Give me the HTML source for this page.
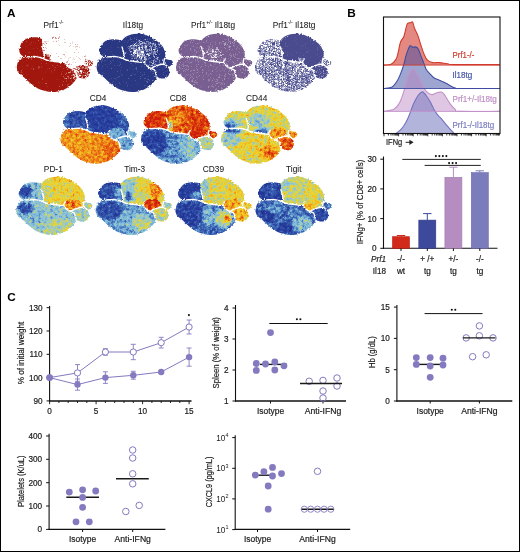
<!DOCTYPE html>
<html><head><meta charset="utf-8"><title>Figure</title>
<style>
html,body{margin:0;padding:0;background:#fff;width:520px;height:552px;overflow:hidden}
svg{display:block;position:absolute;left:0;top:0;will-change:transform}
text{font-family:"Liberation Sans",sans-serif}
</style></head><body>
<svg width="520" height="552" viewBox="0 0 520 552" font-family="Liberation Sans, sans-serif">
<defs><clipPath id="sil"><path d="M0.3,36.3C0.0,35.2 -0.1,34.0 0.1,32.7C0.3,31.4 0.7,29.5 1.3,28.4C1.9,27.2 2.8,26.4 3.6,25.8C4.4,25.2 5.6,25.0 6.2,24.6C6.8,24.2 7.5,23.9 7.4,23.5C7.3,23.1 6.2,22.9 5.6,22.4C5.0,21.9 4.1,21.5 3.6,20.6C3.1,19.8 2.5,18.4 2.5,17.3C2.5,16.2 3.0,15.1 3.4,14.2C3.8,13.2 4.2,12.6 5.0,11.6C5.8,10.6 6.8,9.0 8.1,8.1C9.4,7.2 11.4,6.8 13.0,6.4C14.6,6.1 16.4,6.0 17.9,6.0C19.4,6.0 20.8,6.3 22.0,6.5C23.2,6.7 24.3,7.5 25.2,7.2C26.1,7.0 26.5,5.7 27.4,5.0C28.3,4.3 29.3,3.4 30.5,2.8C31.7,2.2 32.9,1.7 34.5,1.3C36.1,0.9 38.2,0.5 40.0,0.4C41.8,0.3 43.3,0.2 45.0,0.5C46.7,0.8 48.1,1.2 50.0,2.0C51.9,2.8 54.4,4.0 56.5,5.2C58.6,6.5 60.8,8.0 62.5,9.5C64.2,11.0 65.5,12.2 66.5,14.0C67.5,15.8 68.5,18.4 68.8,20.2C69.1,22.0 68.1,24.0 68.4,25.0C68.7,26.0 69.7,25.8 70.8,26.2C71.9,26.6 74.4,26.5 75.3,27.2C76.2,27.9 76.4,29.3 76.2,30.2C76.0,31.1 74.7,31.8 74.0,32.5C73.3,33.2 72.2,33.2 72.0,34.2C71.8,35.2 73.1,37.0 73.0,38.5C72.9,40.0 72.4,41.9 71.5,43.0C70.6,44.1 68.9,44.9 67.5,45.2C66.1,45.5 64.2,44.9 63.0,44.6C61.8,44.3 60.9,43.5 60.3,43.6C59.7,43.8 60.1,44.7 59.6,45.5C59.1,46.3 58.5,47.3 57.5,48.5C56.5,49.7 55.1,51.2 53.5,52.5C51.9,53.8 50.1,55.0 48.0,56.0C45.9,57.0 43.2,57.7 41.0,58.2C38.8,58.7 37.1,58.9 35.0,58.8C32.9,58.7 30.8,58.4 28.5,57.8C26.2,57.2 23.2,56.4 21.0,55.3C18.8,54.2 16.8,52.7 15.0,51.3C13.2,49.9 11.6,48.3 10.0,46.8C8.4,45.3 6.9,43.7 5.5,42.5C4.1,41.3 2.7,40.5 1.8,39.5C0.9,38.5 0.6,37.4 0.3,36.3Z"/></clipPath><clipPath id="cLO"><path d="M-5.0,-5.0 L85.0,-5.0 L85.0,70.0 L-5.0,70.0Z"/></clipPath><clipPath id="cUL"><path d="M-5.0,-5.0 L25.1,-5.0 L25.1,9.5 L25.4,13.6 L26.6,17.5 L27.4,21.0 L26.8,24.6 L23.4,24.2 L19.1,23.3 L14.8,23.4 L10.0,23.6 L6.8,23.5 L-5.0,23.5Z"/></clipPath><clipPath id="cUM"><path d="M25.1,-5.0 L85.0,-5.0 L85.0,31.0 L68.4,31.4 L65.0,31.0 L58.0,31.0 L47.5,29.3 L43.0,28.8 L38.0,28.2 L33.0,27.4 L29.5,26.7 L26.8,24.6 L27.4,21.0 L26.6,17.5 L25.4,13.6 L25.1,9.5Z"/></clipPath><clipPath id="cMR"><path d="M49.2,25.6 L51.0,23.6 L54.0,22.6 L58.0,22.3 L61.5,23.0 L64.0,25.0 L65.2,28.3 L65.0,31.0 L61.5,31.9 L58.1,33.0 L55.5,34.6 L51.9,33.8 L49.0,31.5 L47.5,29.3 L48.0,27.4Z"/></clipPath><clipPath id="cRC"><path d="M55.5,34.6 L58.1,33.0 L61.5,31.9 L65.0,31.0 L68.4,31.4 L72.0,34.2 L85.0,34.0 L85.0,60.0 L60.0,60.0 L60.0,43.5 L59.2,40.0 L58.1,36.8Z"/></clipPath><clipPath id="cRS"><path d="M67.5,22.0 L85.0,22.0 L85.0,34.0 L72.0,34.2 L68.4,31.4 L67.2,31.0 L67.3,28.2 L68.0,25.2Z"/></clipPath><clipPath id="silf1"><path d="M0.3,36.3C0.0,35.2 -0.1,34.0 0.1,32.7C0.3,31.4 0.7,29.5 1.3,28.4C1.9,27.2 2.8,26.4 3.6,25.8C4.4,25.2 5.6,25.0 6.2,24.6C6.8,24.2 7.5,23.9 7.4,23.5C7.3,23.1 6.2,22.9 5.6,22.4C5.0,21.9 4.1,21.5 3.6,20.6C3.1,19.8 2.5,18.4 2.5,17.3C2.5,16.2 3.0,15.1 3.4,14.2C3.8,13.2 4.2,12.6 5.0,11.6C5.8,10.6 6.8,9.0 8.1,8.1C9.4,7.2 11.4,6.8 13.0,6.4C14.6,6.1 16.4,6.0 17.9,6.0C19.4,6.0 20.8,6.3 22.0,6.5C23.2,6.7 24.3,7.5 25.2,7.2C26.1,7.0 26.5,5.7 27.4,5.0C28.3,4.3 29.3,3.4 30.5,2.8C31.7,2.2 32.9,1.7 34.5,1.3C36.1,0.9 38.2,0.5 40.0,0.4C41.8,0.3 43.3,0.2 45.0,0.5C46.7,0.8 48.1,1.2 50.0,2.0C51.9,2.8 54.4,4.0 56.5,5.2C58.6,6.5 60.8,8.0 62.5,9.5C64.2,11.0 65.5,12.2 66.5,14.0C67.5,15.8 68.5,18.4 68.8,20.2C69.1,22.0 68.1,24.0 68.4,25.0C68.7,26.0 69.7,25.8 70.8,26.2C71.9,26.6 74.4,26.5 75.3,27.2C76.2,27.9 76.4,29.3 76.2,30.2C76.0,31.1 74.7,31.8 74.0,32.5C73.3,33.2 72.2,33.2 72.0,34.2C71.8,35.2 73.1,37.0 73.0,38.5C72.9,40.0 72.4,41.9 71.5,43.0C70.6,44.1 68.9,44.9 67.5,45.2C66.1,45.5 64.2,44.9 63.0,44.6C61.8,44.3 60.9,43.5 60.3,43.6C59.7,43.8 60.1,44.7 59.6,45.5C59.1,46.3 58.5,47.3 57.5,48.5C56.5,49.7 55.1,51.2 53.5,52.5C51.9,53.8 50.1,55.0 48.0,56.0C45.9,57.0 43.2,57.7 41.0,58.2C38.8,58.7 37.1,58.9 35.0,58.8C32.9,58.7 30.8,58.4 28.5,57.8C26.2,57.2 23.2,56.4 21.0,55.3C18.8,54.2 16.8,52.7 15.0,51.3C13.2,49.9 11.6,48.3 10.0,46.8C8.4,45.3 6.9,43.7 5.5,42.5C4.1,41.3 2.7,40.5 1.8,39.5C0.9,38.5 0.6,37.4 0.3,36.3Z"/><path d="M3.5,13.0C3.7,11.1 4.8,9.3 6.0,8.0C7.2,6.7 9.2,5.7 11.0,5.0C12.8,4.3 15.0,4.0 17.0,4.0C19.0,4.0 21.2,4.0 23.0,4.8C24.8,5.5 26.7,7.0 27.5,8.5C28.3,10.0 28.2,12.1 27.8,14.0C27.4,15.9 27.1,18.8 25.0,20.0C22.9,21.2 18.3,21.1 15.0,21.0C11.7,20.9 6.9,20.8 5.0,19.5C3.1,18.2 3.3,14.9 3.5,13.0Z"/></clipPath><filter id="bl" x="-50%" y="-50%" width="200%" height="200%"><feGaussianBlur stdDeviation="1.6"/></filter><filter id="nz" x="0" y="0" width="100%" height="100%" filterUnits="objectBoundingBox" color-interpolation-filters="sRGB"><feTurbulence type="fractalNoise" baseFrequency="0.9" numOctaves="2" seed="5" result="t"/><feColorMatrix in="t" type="matrix" values="0 0 0 0 1  0 0 0 0 1  0 0 0 0 1  5 0 0 0 -2.75" result="w"/><feColorMatrix in="t" type="matrix" values="0 0 0 0 0  0 0 0 0 0  0 0 0 0 0  0 -5 0 0 2.25" result="k"/><feMerge><feMergeNode in="k"/><feMergeNode in="w"/></feMerge></filter><filter id="disp" filterUnits="userSpaceOnUse" x="-6" y="-6" width="92" height="76"><feTurbulence type="fractalNoise" baseFrequency="0.7" numOctaves="1" seed="11" result="dn"/><feDisplacementMap in="SourceGraphic" in2="dn" scale="3" xChannelSelector="R" yChannelSelector="G"/></filter><filter id="f1" filterUnits="userSpaceOnUse" x="-5" y="-5" width="90" height="75" color-interpolation-filters="sRGB"><feTurbulence type="fractalNoise" baseFrequency="2.00" numOctaves="1" seed="10" result="t"/><feColorMatrix in="t" type="matrix" values="1 0 0 0 0  1 0 0 0 0  1 0 0 0 0  0 0 0 0 1" result="g"/><feComposite in="SourceGraphic" in2="g" operator="arithmetic" k1="0" k2="1" k3="1.250" k4="-0.625" result="s"/><feComponentTransfer in="s"><feFuncR type="table" tableValues="1.000 1.000 1.000 1.000 1.000 1.000 1.000 1.000 1.000 1.000 1.000 1.000 1.000 0.975 0.949 0.924 0.898 0.873 0.847 0.822 0.796 0.778 0.760 0.741 0.723 0.705 0.686 0.668 0.650 0.635 0.635 0.635 0.635 0.635 0.635 0.635 0.635 0.635 0.635 0.635 0.635"/><feFuncG type="table" tableValues="1.000 1.000 1.000 1.000 1.000 1.000 1.000 1.000 1.000 1.000 1.000 1.000 1.000 0.937 0.875 0.812 0.749 0.686 0.624 0.561 0.498 0.452 0.406 0.360 0.314 0.269 0.223 0.177 0.131 0.094 0.094 0.094 0.094 0.094 0.094 0.094 0.094 0.094 0.094 0.094 0.094"/><feFuncB type="table" tableValues="1.000 1.000 1.000 1.000 1.000 1.000 1.000 1.000 1.000 1.000 1.000 1.000 1.000 0.934 0.869 0.803 0.737 0.672 0.606 0.540 0.475 0.426 0.377 0.329 0.280 0.232 0.183 0.134 0.086 0.047 0.047 0.047 0.047 0.047 0.047 0.047 0.047 0.047 0.047 0.047 0.047"/><feFuncA type="linear" slope="0" intercept="1"/></feComponentTransfer></filter><filter id="f2" filterUnits="userSpaceOnUse" x="-5" y="-5" width="90" height="75" color-interpolation-filters="sRGB"><feTurbulence type="fractalNoise" baseFrequency="2.00" numOctaves="1" seed="17" result="t"/><feColorMatrix in="t" type="matrix" values="1 0 0 0 0  1 0 0 0 0  1 0 0 0 0  0 0 0 0 1" result="g"/><feComposite in="SourceGraphic" in2="g" operator="arithmetic" k1="0" k2="1" k3="1.250" k4="-0.625" result="s"/><feComponentTransfer in="s"><feFuncR type="table" tableValues="1.000 1.000 1.000 1.000 1.000 1.000 1.000 1.000 1.000 1.000 1.000 1.000 1.000 0.943 0.886 0.829 0.773 0.716 0.659 0.602 0.545 0.503 0.461 0.419 0.378 0.336 0.294 0.252 0.210 0.176 0.176 0.176 0.176 0.176 0.176 0.176 0.176 0.176 0.176 0.176 0.176"/><feFuncG type="table" tableValues="1.000 1.000 1.000 1.000 1.000 1.000 1.000 1.000 1.000 1.000 1.000 1.000 1.000 0.947 0.893 0.840 0.786 0.733 0.679 0.626 0.573 0.533 0.494 0.455 0.416 0.376 0.337 0.298 0.259 0.227 0.227 0.227 0.227 0.227 0.227 0.227 0.227 0.227 0.227 0.227 0.227"/><feFuncB type="table" tableValues="1.000 1.000 1.000 1.000 1.000 1.000 1.000 1.000 1.000 1.000 1.000 1.000 1.000 0.967 0.933 0.900 0.867 0.833 0.800 0.767 0.733 0.709 0.684 0.660 0.635 0.611 0.586 0.562 0.537 0.518 0.518 0.518 0.518 0.518 0.518 0.518 0.518 0.518 0.518 0.518 0.518"/><feFuncA type="linear" slope="0" intercept="1"/></feComponentTransfer></filter><filter id="f3" filterUnits="userSpaceOnUse" x="-5" y="-5" width="90" height="75" color-interpolation-filters="sRGB"><feTurbulence type="fractalNoise" baseFrequency="2.00" numOctaves="1" seed="24" result="t"/><feColorMatrix in="t" type="matrix" values="1 0 0 0 0  1 0 0 0 0  1 0 0 0 0  0 0 0 0 1" result="g"/><feComposite in="SourceGraphic" in2="g" operator="arithmetic" k1="0" k2="1" k3="1.250" k4="-0.625" result="s"/><feComponentTransfer in="s"><feFuncR type="table" tableValues="1.000 1.000 1.000 1.000 1.000 1.000 1.000 1.000 1.000 1.000 1.000 1.000 1.000 0.964 0.927 0.891 0.855 0.819 0.782 0.746 0.710 0.684 0.657 0.631 0.605 0.578 0.552 0.526 0.499 0.478 0.478 0.478 0.478 0.478 0.478 0.478 0.478 0.478 0.478 0.478 0.478"/><feFuncG type="table" tableValues="1.000 1.000 1.000 1.000 1.000 1.000 1.000 1.000 1.000 1.000 1.000 1.000 1.000 0.957 0.914 0.871 0.827 0.784 0.741 0.698 0.655 0.623 0.592 0.560 0.528 0.497 0.465 0.433 0.402 0.376 0.376 0.376 0.376 0.376 0.376 0.376 0.376 0.376 0.376 0.376 0.376"/><feFuncB type="table" tableValues="1.000 1.000 1.000 1.000 1.000 1.000 1.000 1.000 1.000 1.000 1.000 1.000 1.000 0.970 0.940 0.910 0.880 0.850 0.821 0.791 0.761 0.739 0.717 0.695 0.673 0.652 0.630 0.608 0.586 0.569 0.569 0.569 0.569 0.569 0.569 0.569 0.569 0.569 0.569 0.569 0.569"/><feFuncA type="linear" slope="0" intercept="1"/></feComponentTransfer></filter><filter id="f4" filterUnits="userSpaceOnUse" x="-5" y="-5" width="90" height="75" color-interpolation-filters="sRGB"><feTurbulence type="fractalNoise" baseFrequency="2.00" numOctaves="1" seed="31" result="t"/><feColorMatrix in="t" type="matrix" values="1 0 0 0 0  1 0 0 0 0  1 0 0 0 0  0 0 0 0 1" result="g"/><feComposite in="SourceGraphic" in2="g" operator="arithmetic" k1="0" k2="1" k3="1.250" k4="-0.625" result="s"/><feComponentTransfer in="s"><feFuncR type="table" tableValues="1.000 1.000 1.000 1.000 1.000 1.000 1.000 1.000 1.000 1.000 1.000 1.000 1.000 0.951 0.902 0.853 0.804 0.755 0.706 0.657 0.608 0.572 0.536 0.500 0.463 0.427 0.391 0.355 0.319 0.290 0.290 0.290 0.290 0.290 0.290 0.290 0.290 0.290 0.290 0.290 0.290"/><feFuncG type="table" tableValues="1.000 1.000 1.000 1.000 1.000 1.000 1.000 1.000 1.000 1.000 1.000 1.000 1.000 0.951 0.903 0.854 0.806 0.757 0.709 0.660 0.612 0.576 0.540 0.505 0.469 0.434 0.398 0.362 0.327 0.298 0.298 0.298 0.298 0.298 0.298 0.298 0.298 0.298 0.298 0.298 0.298"/><feFuncB type="table" tableValues="1.000 1.000 1.000 1.000 1.000 1.000 1.000 1.000 1.000 1.000 1.000 1.000 1.000 0.969 0.938 0.907 0.876 0.846 0.815 0.784 0.753 0.731 0.708 0.686 0.664 0.642 0.619 0.597 0.575 0.557 0.557 0.557 0.557 0.557 0.557 0.557 0.557 0.557 0.557 0.557 0.557"/><feFuncA type="linear" slope="0" intercept="1"/></feComponentTransfer></filter><filter id="f5" filterUnits="userSpaceOnUse" x="-5" y="-5" width="90" height="75" color-interpolation-filters="sRGB"><feTurbulence type="fractalNoise" baseFrequency="0.32" numOctaves="3" seed="38" result="t"/><feColorMatrix in="t" type="matrix" values="1 0 0 0 0  1 0 0 0 0  1 0 0 0 0  0 0 0 0 1" result="g"/><feComposite in="SourceGraphic" in2="g" operator="arithmetic" k1="0" k2="1" k3="0.420" k4="-0.210" result="s"/><feComponentTransfer in="s"><feFuncR type="table" tableValues="0.141 0.149 0.158 0.166 0.174 0.185 0.206 0.227 0.248 0.270 0.300 0.345 0.391 0.436 0.474 0.501 0.529 0.556 0.591 0.636 0.681 0.726 0.772 0.819 0.866 0.913 0.942 0.944 0.946 0.948 0.946 0.940 0.933 0.927 0.920 0.906 0.886 0.867 0.847 0.827 0.808"/><feFuncG type="table" tableValues="0.204 0.222 0.240 0.258 0.276 0.297 0.333 0.369 0.405 0.441 0.486 0.545 0.604 0.663 0.707 0.728 0.750 0.771 0.787 0.795 0.803 0.811 0.818 0.824 0.830 0.836 0.826 0.793 0.759 0.726 0.680 0.614 0.549 0.484 0.418 0.364 0.316 0.268 0.221 0.173 0.125"/><feFuncB type="table" tableValues="0.588 0.600 0.611 0.623 0.634 0.647 0.669 0.690 0.711 0.732 0.755 0.778 0.802 0.825 0.842 0.847 0.853 0.859 0.824 0.725 0.627 0.529 0.439 0.361 0.282 0.204 0.154 0.146 0.138 0.130 0.122 0.112 0.102 0.092 0.082 0.073 0.065 0.057 0.048 0.040 0.031"/><feFuncA type="linear" slope="0" intercept="1"/></feComponentTransfer></filter><filter id="f6" filterUnits="userSpaceOnUse" x="-5" y="-5" width="90" height="75" color-interpolation-filters="sRGB"><feTurbulence type="fractalNoise" baseFrequency="0.32" numOctaves="3" seed="45" result="t"/><feColorMatrix in="t" type="matrix" values="1 0 0 0 0  1 0 0 0 0  1 0 0 0 0  0 0 0 0 1" result="g"/><feComposite in="SourceGraphic" in2="g" operator="arithmetic" k1="0" k2="1" k3="0.550" k4="-0.275" result="s"/><feComponentTransfer in="s"><feFuncR type="table" tableValues="0.141 0.149 0.158 0.166 0.174 0.185 0.206 0.227 0.248 0.270 0.300 0.345 0.391 0.436 0.474 0.501 0.529 0.556 0.591 0.636 0.681 0.726 0.772 0.819 0.866 0.913 0.942 0.944 0.946 0.948 0.946 0.940 0.933 0.927 0.920 0.906 0.886 0.867 0.847 0.827 0.808"/><feFuncG type="table" tableValues="0.204 0.222 0.240 0.258 0.276 0.297 0.333 0.369 0.405 0.441 0.486 0.545 0.604 0.663 0.707 0.728 0.750 0.771 0.787 0.795 0.803 0.811 0.818 0.824 0.830 0.836 0.826 0.793 0.759 0.726 0.680 0.614 0.549 0.484 0.418 0.364 0.316 0.268 0.221 0.173 0.125"/><feFuncB type="table" tableValues="0.588 0.600 0.611 0.623 0.634 0.647 0.669 0.690 0.711 0.732 0.755 0.778 0.802 0.825 0.842 0.847 0.853 0.859 0.824 0.725 0.627 0.529 0.439 0.361 0.282 0.204 0.154 0.146 0.138 0.130 0.122 0.112 0.102 0.092 0.082 0.073 0.065 0.057 0.048 0.040 0.031"/><feFuncA type="linear" slope="0" intercept="1"/></feComponentTransfer></filter><filter id="f7" filterUnits="userSpaceOnUse" x="-5" y="-5" width="90" height="75" color-interpolation-filters="sRGB"><feTurbulence type="fractalNoise" baseFrequency="0.32" numOctaves="3" seed="52" result="t"/><feColorMatrix in="t" type="matrix" values="1 0 0 0 0  1 0 0 0 0  1 0 0 0 0  0 0 0 0 1" result="g"/><feComposite in="SourceGraphic" in2="g" operator="arithmetic" k1="0" k2="1" k3="0.550" k4="-0.275" result="s"/><feComponentTransfer in="s"><feFuncR type="table" tableValues="0.141 0.149 0.158 0.166 0.174 0.185 0.206 0.227 0.248 0.270 0.300 0.345 0.391 0.436 0.474 0.501 0.529 0.556 0.591 0.636 0.681 0.726 0.772 0.819 0.866 0.913 0.942 0.944 0.946 0.948 0.946 0.940 0.933 0.927 0.920 0.906 0.886 0.867 0.847 0.827 0.808"/><feFuncG type="table" tableValues="0.204 0.222 0.240 0.258 0.276 0.297 0.333 0.369 0.405 0.441 0.486 0.545 0.604 0.663 0.707 0.728 0.750 0.771 0.787 0.795 0.803 0.811 0.818 0.824 0.830 0.836 0.826 0.793 0.759 0.726 0.680 0.614 0.549 0.484 0.418 0.364 0.316 0.268 0.221 0.173 0.125"/><feFuncB type="table" tableValues="0.588 0.600 0.611 0.623 0.634 0.647 0.669 0.690 0.711 0.732 0.755 0.778 0.802 0.825 0.842 0.847 0.853 0.859 0.824 0.725 0.627 0.529 0.439 0.361 0.282 0.204 0.154 0.146 0.138 0.130 0.122 0.112 0.102 0.092 0.082 0.073 0.065 0.057 0.048 0.040 0.031"/><feFuncA type="linear" slope="0" intercept="1"/></feComponentTransfer></filter><filter id="f8" filterUnits="userSpaceOnUse" x="-5" y="-5" width="90" height="75" color-interpolation-filters="sRGB"><feTurbulence type="fractalNoise" baseFrequency="0.32" numOctaves="3" seed="59" result="t"/><feColorMatrix in="t" type="matrix" values="1 0 0 0 0  1 0 0 0 0  1 0 0 0 0  0 0 0 0 1" result="g"/><feComposite in="SourceGraphic" in2="g" operator="arithmetic" k1="0" k2="1" k3="0.550" k4="-0.275" result="s"/><feComponentTransfer in="s"><feFuncR type="table" tableValues="0.141 0.149 0.158 0.166 0.174 0.185 0.206 0.227 0.248 0.270 0.300 0.345 0.391 0.436 0.474 0.501 0.529 0.556 0.591 0.636 0.681 0.726 0.772 0.819 0.866 0.913 0.942 0.944 0.946 0.948 0.946 0.940 0.933 0.927 0.920 0.906 0.886 0.867 0.847 0.827 0.808"/><feFuncG type="table" tableValues="0.204 0.222 0.240 0.258 0.276 0.297 0.333 0.369 0.405 0.441 0.486 0.545 0.604 0.663 0.707 0.728 0.750 0.771 0.787 0.795 0.803 0.811 0.818 0.824 0.830 0.836 0.826 0.793 0.759 0.726 0.680 0.614 0.549 0.484 0.418 0.364 0.316 0.268 0.221 0.173 0.125"/><feFuncB type="table" tableValues="0.588 0.600 0.611 0.623 0.634 0.647 0.669 0.690 0.711 0.732 0.755 0.778 0.802 0.825 0.842 0.847 0.853 0.859 0.824 0.725 0.627 0.529 0.439 0.361 0.282 0.204 0.154 0.146 0.138 0.130 0.122 0.112 0.102 0.092 0.082 0.073 0.065 0.057 0.048 0.040 0.031"/><feFuncA type="linear" slope="0" intercept="1"/></feComponentTransfer></filter><filter id="f9" filterUnits="userSpaceOnUse" x="-5" y="-5" width="90" height="75" color-interpolation-filters="sRGB"><feTurbulence type="fractalNoise" baseFrequency="0.32" numOctaves="3" seed="66" result="t"/><feColorMatrix in="t" type="matrix" values="1 0 0 0 0  1 0 0 0 0  1 0 0 0 0  0 0 0 0 1" result="g"/><feComposite in="SourceGraphic" in2="g" operator="arithmetic" k1="0" k2="1" k3="0.550" k4="-0.275" result="s"/><feComponentTransfer in="s"><feFuncR type="table" tableValues="0.141 0.149 0.158 0.166 0.174 0.185 0.206 0.227 0.248 0.270 0.300 0.345 0.391 0.436 0.474 0.501 0.529 0.556 0.591 0.636 0.681 0.726 0.772 0.819 0.866 0.913 0.942 0.944 0.946 0.948 0.946 0.940 0.933 0.927 0.920 0.906 0.886 0.867 0.847 0.827 0.808"/><feFuncG type="table" tableValues="0.204 0.222 0.240 0.258 0.276 0.297 0.333 0.369 0.405 0.441 0.486 0.545 0.604 0.663 0.707 0.728 0.750 0.771 0.787 0.795 0.803 0.811 0.818 0.824 0.830 0.836 0.826 0.793 0.759 0.726 0.680 0.614 0.549 0.484 0.418 0.364 0.316 0.268 0.221 0.173 0.125"/><feFuncB type="table" tableValues="0.588 0.600 0.611 0.623 0.634 0.647 0.669 0.690 0.711 0.732 0.755 0.778 0.802 0.825 0.842 0.847 0.853 0.859 0.824 0.725 0.627 0.529 0.439 0.361 0.282 0.204 0.154 0.146 0.138 0.130 0.122 0.112 0.102 0.092 0.082 0.073 0.065 0.057 0.048 0.040 0.031"/><feFuncA type="linear" slope="0" intercept="1"/></feComponentTransfer></filter><filter id="f10" filterUnits="userSpaceOnUse" x="-5" y="-5" width="90" height="75" color-interpolation-filters="sRGB"><feTurbulence type="fractalNoise" baseFrequency="0.32" numOctaves="3" seed="73" result="t"/><feColorMatrix in="t" type="matrix" values="1 0 0 0 0  1 0 0 0 0  1 0 0 0 0  0 0 0 0 1" result="g"/><feComposite in="SourceGraphic" in2="g" operator="arithmetic" k1="0" k2="1" k3="0.550" k4="-0.275" result="s"/><feComponentTransfer in="s"><feFuncR type="table" tableValues="0.141 0.149 0.158 0.166 0.174 0.185 0.206 0.227 0.248 0.270 0.300 0.345 0.391 0.436 0.474 0.501 0.529 0.556 0.591 0.636 0.681 0.726 0.772 0.819 0.866 0.913 0.942 0.944 0.946 0.948 0.946 0.940 0.933 0.927 0.920 0.906 0.886 0.867 0.847 0.827 0.808"/><feFuncG type="table" tableValues="0.204 0.222 0.240 0.258 0.276 0.297 0.333 0.369 0.405 0.441 0.486 0.545 0.604 0.663 0.707 0.728 0.750 0.771 0.787 0.795 0.803 0.811 0.818 0.824 0.830 0.836 0.826 0.793 0.759 0.726 0.680 0.614 0.549 0.484 0.418 0.364 0.316 0.268 0.221 0.173 0.125"/><feFuncB type="table" tableValues="0.588 0.600 0.611 0.623 0.634 0.647 0.669 0.690 0.711 0.732 0.755 0.778 0.802 0.825 0.842 0.847 0.853 0.859 0.824 0.725 0.627 0.529 0.439 0.361 0.282 0.204 0.154 0.146 0.138 0.130 0.122 0.112 0.102 0.092 0.082 0.073 0.065 0.057 0.048 0.040 0.031"/><feFuncA type="linear" slope="0" intercept="1"/></feComponentTransfer></filter><filter id="f11" filterUnits="userSpaceOnUse" x="-5" y="-5" width="90" height="75" color-interpolation-filters="sRGB"><feTurbulence type="fractalNoise" baseFrequency="0.32" numOctaves="3" seed="80" result="t"/><feColorMatrix in="t" type="matrix" values="1 0 0 0 0  1 0 0 0 0  1 0 0 0 0  0 0 0 0 1" result="g"/><feComposite in="SourceGraphic" in2="g" operator="arithmetic" k1="0" k2="1" k3="0.550" k4="-0.275" result="s"/><feComponentTransfer in="s"><feFuncR type="table" tableValues="0.141 0.149 0.158 0.166 0.174 0.185 0.206 0.227 0.248 0.270 0.300 0.345 0.391 0.436 0.474 0.501 0.529 0.556 0.591 0.636 0.681 0.726 0.772 0.819 0.866 0.913 0.942 0.944 0.946 0.948 0.946 0.940 0.933 0.927 0.920 0.906 0.886 0.867 0.847 0.827 0.808"/><feFuncG type="table" tableValues="0.204 0.222 0.240 0.258 0.276 0.297 0.333 0.369 0.405 0.441 0.486 0.545 0.604 0.663 0.707 0.728 0.750 0.771 0.787 0.795 0.803 0.811 0.818 0.824 0.830 0.836 0.826 0.793 0.759 0.726 0.680 0.614 0.549 0.484 0.418 0.364 0.316 0.268 0.221 0.173 0.125"/><feFuncB type="table" tableValues="0.588 0.600 0.611 0.623 0.634 0.647 0.669 0.690 0.711 0.732 0.755 0.778 0.802 0.825 0.842 0.847 0.853 0.859 0.824 0.725 0.627 0.529 0.439 0.361 0.282 0.204 0.154 0.146 0.138 0.130 0.122 0.112 0.102 0.092 0.082 0.073 0.065 0.057 0.048 0.040 0.031"/><feFuncA type="linear" slope="0" intercept="1"/></feComponentTransfer></filter></defs>
<rect x="0.5" y="0.5" width="519" height="551" fill="#fff" stroke="#000" stroke-width="1"/>
<g transform="translate(16.8,33.3)"><g filter="url(#disp)"><g clip-path="url(#silf1)"><g filter="url(#f1)"><rect x="-5" y="-5" width="90" height="75" fill="#000"/><g clip-path="url(#cLO)"><rect x="-5" y="-5" width="90" height="75" fill="#f2f2f2"/><g filter="url(#bl)"><ellipse cx="52.0" cy="44.0" rx="9.0" ry="13.0" fill="#cccccc" fill-opacity="0.85"/><ellipse cx="40.0" cy="34.0" rx="6.0" ry="5.0" fill="#d6d6d6" fill-opacity="0.60"/><ellipse cx="58.5" cy="41.0" rx="2.5" ry="6.0" fill="#4c4c4c" fill-opacity="0.80"/></g></g><g clip-path="url(#cUL)"><rect x="-5" y="-5" width="90" height="75" fill="#f2f2f2"/></g><g clip-path="url(#cUM)"><rect x="-5" y="-5" width="90" height="75" fill="#0d0d0d"/><g filter="url(#bl)"><ellipse cx="28.0" cy="12.0" rx="3.0" ry="6.0" fill="#737373" fill-opacity="0.70"/><ellipse cx="40.0" cy="5.0" rx="7.0" ry="2.5" fill="#616161" fill-opacity="0.60"/><ellipse cx="30.0" cy="24.5" rx="4.0" ry="3.0" fill="#f2f2f2" fill-opacity="0.95"/><ellipse cx="58.0" cy="12.0" rx="6.0" ry="4.0" fill="#545454" fill-opacity="0.50"/></g></g><g clip-path="url(#cMR)"><rect x="-5" y="-5" width="90" height="75" fill="#262626"/><g filter="url(#bl)"><ellipse cx="50.0" cy="30.0" rx="3.0" ry="2.0" fill="#808080" fill-opacity="0.60"/></g></g><g clip-path="url(#cRC)"><rect x="-5" y="-5" width="90" height="75" fill="#a3a3a3"/><g filter="url(#bl)"><ellipse cx="60.0" cy="38.0" rx="2.5" ry="6.0" fill="#4c4c4c" fill-opacity="0.80"/></g></g><g clip-path="url(#cRS)"><rect x="-5" y="-5" width="90" height="75" fill="#858585"/></g></g></g><path d="M6.8,23.5C7.3,23.5 8.7,23.6 10.0,23.6C11.3,23.6 13.3,23.4 14.8,23.4C16.3,23.3 17.7,23.2 19.1,23.3C20.5,23.4 22.2,23.9 23.4,24.2C24.6,24.5 25.5,25.0 26.5,25.4C27.5,25.8 28.4,26.4 29.5,26.7C30.6,27.0 31.6,27.1 33.0,27.4C34.4,27.6 36.3,28.0 38.0,28.2C39.7,28.4 41.4,28.6 43.0,28.8C44.6,29.0 46.8,29.2 47.5,29.3" fill="none" stroke="#fff" stroke-width="1.40" stroke-linecap="round"/><path d="M25.4,13.6C25.6,14.2 26.3,16.3 26.6,17.5C26.9,18.7 27.4,19.8 27.4,21.0C27.4,22.2 26.9,24.0 26.8,24.6" fill="none" stroke="#fff" stroke-width="1.40" stroke-linecap="round"/><path d="M47.5,29.3C47.8,29.7 48.3,30.8 49.0,31.5C49.7,32.2 50.9,33.2 51.9,33.8C52.9,34.4 54.0,34.8 55.0,35.3C56.0,35.8 57.4,36.0 58.1,36.8C58.8,37.6 58.9,38.9 59.2,40.0C59.5,41.1 59.9,42.9 60.0,43.5" fill="none" stroke="#fff" stroke-width="1.40" stroke-linecap="round"/><path d="M55.5,34.6C55.9,34.3 57.1,33.5 58.1,33.0C59.1,32.5 60.4,32.2 61.5,31.9C62.6,31.6 63.9,31.1 65.0,31.0C66.2,30.9 67.2,30.9 68.4,31.4C69.6,31.9 71.4,33.7 72.0,34.2" fill="none" stroke="#fff" stroke-width="1.40" stroke-linecap="round"/><path d="M47.5,29.3C47.6,29.0 47.7,28.0 48.0,27.4C48.3,26.8 49.0,25.9 49.2,25.6" fill="none" stroke="#fff" stroke-width="1.40" stroke-linecap="round"/><path d="M68.0,25.2C67.9,25.7 67.4,27.2 67.3,28.2C67.2,29.2 67.2,30.5 67.2,31.0" fill="none" stroke="#fff" stroke-width="1.40" stroke-linecap="round"/></g></g>
<g transform="translate(96.6,33.3)"><g filter="url(#disp)"><g clip-path="url(#sil)"><g filter="url(#f2)"><rect x="-5" y="-5" width="90" height="75" fill="#000"/><g clip-path="url(#cLO)"><rect x="-5" y="-5" width="90" height="75" fill="#ededed"/><g filter="url(#bl)"><ellipse cx="53.0" cy="42.0" rx="6.0" ry="8.0" fill="#bdbdbd" fill-opacity="0.60"/></g></g><g clip-path="url(#cUL)"><rect x="-5" y="-5" width="90" height="75" fill="#f2f2f2"/></g><g clip-path="url(#cUM)"><rect x="-5" y="-5" width="90" height="75" fill="#f2f2f2"/><g filter="url(#bl)"><ellipse cx="47.0" cy="17.0" rx="15.0" ry="11.0" fill="#8f8f8f" fill-opacity="0.95"/><ellipse cx="42.0" cy="20.0" rx="6.0" ry="5.0" fill="#6b6b6b" fill-opacity="0.90"/><ellipse cx="60.0" cy="10.0" rx="6.0" ry="6.0" fill="#a3a3a3" fill-opacity="0.70"/></g></g><g clip-path="url(#cMR)"><rect x="-5" y="-5" width="90" height="75" fill="#a8a8a8"/><g filter="url(#bl)"><ellipse cx="62.0" cy="28.0" rx="4.0" ry="4.0" fill="#cccccc" fill-opacity="0.60"/></g></g><g clip-path="url(#cRC)"><rect x="-5" y="-5" width="90" height="75" fill="#ebebeb"/></g><g clip-path="url(#cRS)"><rect x="-5" y="-5" width="90" height="75" fill="#e6e6e6"/></g></g></g><path d="M6.8,23.5C7.3,23.5 8.7,23.6 10.0,23.6C11.3,23.6 13.3,23.4 14.8,23.4C16.3,23.3 17.7,23.2 19.1,23.3C20.5,23.4 22.2,23.9 23.4,24.2C24.6,24.5 25.5,25.0 26.5,25.4C27.5,25.8 28.4,26.4 29.5,26.7C30.6,27.0 31.6,27.1 33.0,27.4C34.4,27.6 36.3,28.0 38.0,28.2C39.7,28.4 41.4,28.6 43.0,28.8C44.6,29.0 46.8,29.2 47.5,29.3" fill="none" stroke="#fff" stroke-width="1.40" stroke-linecap="round"/><path d="M25.4,13.6C25.6,14.2 26.3,16.3 26.6,17.5C26.9,18.7 27.4,19.8 27.4,21.0C27.4,22.2 26.9,24.0 26.8,24.6" fill="none" stroke="#fff" stroke-width="1.40" stroke-linecap="round"/><path d="M47.5,29.3C47.8,29.7 48.3,30.8 49.0,31.5C49.7,32.2 50.9,33.2 51.9,33.8C52.9,34.4 54.0,34.8 55.0,35.3C56.0,35.8 57.4,36.0 58.1,36.8C58.8,37.6 58.9,38.9 59.2,40.0C59.5,41.1 59.9,42.9 60.0,43.5" fill="none" stroke="#fff" stroke-width="1.40" stroke-linecap="round"/><path d="M55.5,34.6C55.9,34.3 57.1,33.5 58.1,33.0C59.1,32.5 60.4,32.2 61.5,31.9C62.6,31.6 63.9,31.1 65.0,31.0C66.2,30.9 67.2,30.9 68.4,31.4C69.6,31.9 71.4,33.7 72.0,34.2" fill="none" stroke="#fff" stroke-width="1.40" stroke-linecap="round"/><path d="M47.5,29.3C47.6,29.0 47.7,28.0 48.0,27.4C48.3,26.8 49.0,25.9 49.2,25.6" fill="none" stroke="#fff" stroke-width="1.40" stroke-linecap="round"/><path d="M68.0,25.2C67.9,25.7 67.4,27.2 67.3,28.2C67.2,29.2 67.2,30.5 67.2,31.0" fill="none" stroke="#fff" stroke-width="1.40" stroke-linecap="round"/></g></g>
<g transform="translate(176.0,33.3)"><g filter="url(#disp)"><g clip-path="url(#sil)"><g filter="url(#f3)"><rect x="-5" y="-5" width="90" height="75" fill="#000"/><g clip-path="url(#cLO)"><rect x="-5" y="-5" width="90" height="75" fill="#dbdbdb"/><g filter="url(#bl)"><ellipse cx="10.0" cy="50.0" rx="8.0" ry="6.0" fill="#c2c2c2" fill-opacity="0.60"/></g></g><g clip-path="url(#cUL)"><rect x="-5" y="-5" width="90" height="75" fill="#dedede"/></g><g clip-path="url(#cUM)"><rect x="-5" y="-5" width="90" height="75" fill="#e0e0e0"/><g filter="url(#bl)"><ellipse cx="38.0" cy="21.0" rx="9.0" ry="6.0" fill="#8f8f8f" fill-opacity="0.90"/><ellipse cx="52.0" cy="12.0" rx="6.0" ry="5.0" fill="#b2b2b2" fill-opacity="0.60"/></g></g><g clip-path="url(#cMR)"><rect x="-5" y="-5" width="90" height="75" fill="#d6d6d6"/></g><g clip-path="url(#cRC)"><rect x="-5" y="-5" width="90" height="75" fill="#dbdbdb"/></g><g clip-path="url(#cRS)"><rect x="-5" y="-5" width="90" height="75" fill="#dbdbdb"/></g></g></g><path d="M6.8,23.5C7.3,23.5 8.7,23.6 10.0,23.6C11.3,23.6 13.3,23.4 14.8,23.4C16.3,23.3 17.7,23.2 19.1,23.3C20.5,23.4 22.2,23.9 23.4,24.2C24.6,24.5 25.5,25.0 26.5,25.4C27.5,25.8 28.4,26.4 29.5,26.7C30.6,27.0 31.6,27.1 33.0,27.4C34.4,27.6 36.3,28.0 38.0,28.2C39.7,28.4 41.4,28.6 43.0,28.8C44.6,29.0 46.8,29.2 47.5,29.3" fill="none" stroke="#fff" stroke-width="1.40" stroke-linecap="round"/><path d="M25.4,13.6C25.6,14.2 26.3,16.3 26.6,17.5C26.9,18.7 27.4,19.8 27.4,21.0C27.4,22.2 26.9,24.0 26.8,24.6" fill="none" stroke="#fff" stroke-width="1.40" stroke-linecap="round"/><path d="M47.5,29.3C47.8,29.7 48.3,30.8 49.0,31.5C49.7,32.2 50.9,33.2 51.9,33.8C52.9,34.4 54.0,34.8 55.0,35.3C56.0,35.8 57.4,36.0 58.1,36.8C58.8,37.6 58.9,38.9 59.2,40.0C59.5,41.1 59.9,42.9 60.0,43.5" fill="none" stroke="#fff" stroke-width="1.40" stroke-linecap="round"/><path d="M55.5,34.6C55.9,34.3 57.1,33.5 58.1,33.0C59.1,32.5 60.4,32.2 61.5,31.9C62.6,31.6 63.9,31.1 65.0,31.0C66.2,30.9 67.2,30.9 68.4,31.4C69.6,31.9 71.4,33.7 72.0,34.2" fill="none" stroke="#fff" stroke-width="1.40" stroke-linecap="round"/><path d="M47.5,29.3C47.6,29.0 47.7,28.0 48.0,27.4C48.3,26.8 49.0,25.9 49.2,25.6" fill="none" stroke="#fff" stroke-width="1.40" stroke-linecap="round"/><path d="M68.0,25.2C67.9,25.7 67.4,27.2 67.3,28.2C67.2,29.2 67.2,30.5 67.2,31.0" fill="none" stroke="#fff" stroke-width="1.40" stroke-linecap="round"/></g></g>
<g transform="translate(255.0,33.3)"><g filter="url(#disp)"><g clip-path="url(#sil)"><g filter="url(#f4)"><rect x="-5" y="-5" width="90" height="75" fill="#000"/><g clip-path="url(#cLO)"><rect x="-5" y="-5" width="90" height="75" fill="#858585"/><g filter="url(#bl)"><ellipse cx="40.0" cy="48.0" rx="12.0" ry="7.0" fill="#999999" fill-opacity="0.60"/></g></g><g clip-path="url(#cUL)"><rect x="-5" y="-5" width="90" height="75" fill="#808080"/></g><g clip-path="url(#cUM)"><rect x="-5" y="-5" width="90" height="75" fill="#f2f2f2"/><g filter="url(#bl)"><ellipse cx="46.0" cy="28.0" rx="3.0" ry="4.0" fill="#595959" fill-opacity="0.90"/><ellipse cx="28.0" cy="6.0" rx="3.0" ry="4.0" fill="#999999" fill-opacity="0.70"/></g></g><g clip-path="url(#cMR)"><rect x="-5" y="-5" width="90" height="75" fill="#f2f2f2"/></g><g clip-path="url(#cRC)"><rect x="-5" y="-5" width="90" height="75" fill="#bfbfbf"/></g><g clip-path="url(#cRS)"><rect x="-5" y="-5" width="90" height="75" fill="#858585"/></g></g></g><path d="M6.8,23.5C7.3,23.5 8.7,23.6 10.0,23.6C11.3,23.6 13.3,23.4 14.8,23.4C16.3,23.3 17.7,23.2 19.1,23.3C20.5,23.4 22.2,23.9 23.4,24.2C24.6,24.5 25.5,25.0 26.5,25.4C27.5,25.8 28.4,26.4 29.5,26.7C30.6,27.0 31.6,27.1 33.0,27.4C34.4,27.6 36.3,28.0 38.0,28.2C39.7,28.4 41.4,28.6 43.0,28.8C44.6,29.0 46.8,29.2 47.5,29.3" fill="none" stroke="#fff" stroke-width="1.40" stroke-linecap="round"/><path d="M25.4,13.6C25.6,14.2 26.3,16.3 26.6,17.5C26.9,18.7 27.4,19.8 27.4,21.0C27.4,22.2 26.9,24.0 26.8,24.6" fill="none" stroke="#fff" stroke-width="1.40" stroke-linecap="round"/><path d="M47.5,29.3C47.8,29.7 48.3,30.8 49.0,31.5C49.7,32.2 50.9,33.2 51.9,33.8C52.9,34.4 54.0,34.8 55.0,35.3C56.0,35.8 57.4,36.0 58.1,36.8C58.8,37.6 58.9,38.9 59.2,40.0C59.5,41.1 59.9,42.9 60.0,43.5" fill="none" stroke="#fff" stroke-width="1.40" stroke-linecap="round"/><path d="M55.5,34.6C55.9,34.3 57.1,33.5 58.1,33.0C59.1,32.5 60.4,32.2 61.5,31.9C62.6,31.6 63.9,31.1 65.0,31.0C66.2,30.9 67.2,30.9 68.4,31.4C69.6,31.9 71.4,33.7 72.0,34.2" fill="none" stroke="#fff" stroke-width="1.40" stroke-linecap="round"/><path d="M47.5,29.3C47.6,29.0 47.7,28.0 48.0,27.4C48.3,26.8 49.0,25.9 49.2,25.6" fill="none" stroke="#fff" stroke-width="1.40" stroke-linecap="round"/><path d="M68.0,25.2C67.9,25.7 67.4,27.2 67.3,28.2C67.2,29.2 67.2,30.5 67.2,31.0" fill="none" stroke="#fff" stroke-width="1.40" stroke-linecap="round"/></g></g>
<g transform="translate(60.4,105.0)"><g filter="url(#disp)"><g clip-path="url(#sil)"><g filter="url(#f5)"><rect x="-5" y="-5" width="90" height="75" fill="#000"/><g clip-path="url(#cLO)"><rect x="-5" y="-5" width="90" height="75" fill="#cccccc"/><g filter="url(#bl)"><ellipse cx="20.0" cy="38.0" rx="13.0" ry="9.0" fill="#c4c4c4" fill-opacity="0.80"/><ellipse cx="52.0" cy="44.0" rx="7.0" ry="9.0" fill="#dedede" fill-opacity="0.80"/><ellipse cx="40.0" cy="55.0" rx="10.0" ry="4.0" fill="#d6d6d6" fill-opacity="0.50"/></g></g><g clip-path="url(#cUL)"><rect x="-5" y="-5" width="90" height="75" fill="#212121"/><g filter="url(#bl)"><ellipse cx="5.0" cy="15.0" rx="4.0" ry="7.0" fill="#404040" fill-opacity="0.70"/></g></g><g clip-path="url(#cUM)"><rect x="-5" y="-5" width="90" height="75" fill="#121212"/><g filter="url(#bl)"><ellipse cx="63.0" cy="14.0" rx="5.0" ry="8.0" fill="#444444" fill-opacity="0.70"/><ellipse cx="29.0" cy="25.0" rx="3.0" ry="2.5" fill="#525252" fill-opacity="0.90"/></g></g><g clip-path="url(#cMR)"><rect x="-5" y="-5" width="90" height="75" fill="#545454"/></g><g clip-path="url(#cRC)"><rect x="-5" y="-5" width="90" height="75" fill="#525252"/><g filter="url(#bl)"><ellipse cx="65.0" cy="40.0" rx="4.0" ry="4.0" fill="#444444" fill-opacity="0.50"/></g></g><g clip-path="url(#cRS)"><rect x="-5" y="-5" width="90" height="75" fill="#5c5c5c"/></g></g></g><path d="M6.8,23.5C7.3,23.5 8.7,23.6 10.0,23.6C11.3,23.6 13.3,23.4 14.8,23.4C16.3,23.3 17.7,23.2 19.1,23.3C20.5,23.4 22.2,23.9 23.4,24.2C24.6,24.5 25.5,25.0 26.5,25.4C27.5,25.8 28.4,26.4 29.5,26.7C30.6,27.0 31.6,27.1 33.0,27.4C34.4,27.6 36.3,28.0 38.0,28.2C39.7,28.4 41.4,28.6 43.0,28.8C44.6,29.0 46.8,29.2 47.5,29.3" fill="none" stroke="#fff" stroke-width="1.40" stroke-linecap="round"/><path d="M25.4,13.6C25.6,14.2 26.3,16.3 26.6,17.5C26.9,18.7 27.4,19.8 27.4,21.0C27.4,22.2 26.9,24.0 26.8,24.6" fill="none" stroke="#fff" stroke-width="1.40" stroke-linecap="round"/><path d="M47.5,29.3C47.8,29.7 48.3,30.8 49.0,31.5C49.7,32.2 50.9,33.2 51.9,33.8C52.9,34.4 54.0,34.8 55.0,35.3C56.0,35.8 57.4,36.0 58.1,36.8C58.8,37.6 58.9,38.9 59.2,40.0C59.5,41.1 59.9,42.9 60.0,43.5" fill="none" stroke="#fff" stroke-width="1.40" stroke-linecap="round"/><path d="M55.5,34.6C55.9,34.3 57.1,33.5 58.1,33.0C59.1,32.5 60.4,32.2 61.5,31.9C62.6,31.6 63.9,31.1 65.0,31.0C66.2,30.9 67.2,30.9 68.4,31.4C69.6,31.9 71.4,33.7 72.0,34.2" fill="none" stroke="#fff" stroke-width="1.40" stroke-linecap="round"/><path d="M47.5,29.3C47.6,29.0 47.7,28.0 48.0,27.4C48.3,26.8 49.0,25.9 49.2,25.6" fill="none" stroke="#fff" stroke-width="1.40" stroke-linecap="round"/><path d="M68.0,25.2C67.9,25.7 67.4,27.2 67.3,28.2C67.2,29.2 67.2,30.5 67.2,31.0" fill="none" stroke="#fff" stroke-width="1.40" stroke-linecap="round"/></g></g>
<g transform="translate(141.0,105.0)"><g filter="url(#disp)"><g clip-path="url(#sil)"><g filter="url(#f6)"><rect x="-5" y="-5" width="90" height="75" fill="#000"/><g clip-path="url(#cLO)"><rect x="-5" y="-5" width="90" height="75" fill="#474747"/><g filter="url(#bl)"><ellipse cx="12.0" cy="38.0" rx="14.0" ry="13.0" fill="#0d0d0d" fill-opacity="0.90"/><ellipse cx="47.0" cy="42.0" rx="9.0" ry="11.0" fill="#6b6b6b" fill-opacity="0.90"/><ellipse cx="50.0" cy="50.0" rx="5.0" ry="5.0" fill="#858585" fill-opacity="0.60"/></g></g><g clip-path="url(#cUL)"><rect x="-5" y="-5" width="90" height="75" fill="#f2f2f2"/><g filter="url(#bl)"><ellipse cx="8.0" cy="16.0" rx="6.0" ry="6.0" fill="#fcfcfc" fill-opacity="0.60"/><ellipse cx="22.0" cy="12.0" rx="5.0" ry="5.0" fill="#e6e6e6" fill-opacity="0.40"/></g></g><g clip-path="url(#cUM)"><rect x="-5" y="-5" width="90" height="75" fill="#e3e3e3"/><g filter="url(#bl)"><ellipse cx="36.0" cy="13.0" rx="7.0" ry="8.0" fill="#c7c7c7" fill-opacity="0.80"/><ellipse cx="58.0" cy="14.0" rx="9.0" ry="10.0" fill="#f2f2f2" fill-opacity="0.90"/><ellipse cx="44.0" cy="3.0" rx="8.0" ry="3.0" fill="#f0f0f0" fill-opacity="0.50"/><ellipse cx="29.0" cy="20.0" rx="2.5" ry="5.0" fill="#6b6b6b" fill-opacity="0.90"/></g></g><g clip-path="url(#cMR)"><rect x="-5" y="-5" width="90" height="75" fill="#f7f7f7"/></g><g clip-path="url(#cRC)"><rect x="-5" y="-5" width="90" height="75" fill="#858585"/></g><g clip-path="url(#cRS)"><rect x="-5" y="-5" width="90" height="75" fill="#ededed"/></g></g></g><path d="M6.8,23.5C7.3,23.5 8.7,23.6 10.0,23.6C11.3,23.6 13.3,23.4 14.8,23.4C16.3,23.3 17.7,23.2 19.1,23.3C20.5,23.4 22.2,23.9 23.4,24.2C24.6,24.5 25.5,25.0 26.5,25.4C27.5,25.8 28.4,26.4 29.5,26.7C30.6,27.0 31.6,27.1 33.0,27.4C34.4,27.6 36.3,28.0 38.0,28.2C39.7,28.4 41.4,28.6 43.0,28.8C44.6,29.0 46.8,29.2 47.5,29.3" fill="none" stroke="#fff" stroke-width="1.40" stroke-linecap="round"/><path d="M25.4,13.6C25.6,14.2 26.3,16.3 26.6,17.5C26.9,18.7 27.4,19.8 27.4,21.0C27.4,22.2 26.9,24.0 26.8,24.6" fill="none" stroke="#fff" stroke-width="1.40" stroke-linecap="round"/><path d="M47.5,29.3C47.8,29.7 48.3,30.8 49.0,31.5C49.7,32.2 50.9,33.2 51.9,33.8C52.9,34.4 54.0,34.8 55.0,35.3C56.0,35.8 57.4,36.0 58.1,36.8C58.8,37.6 58.9,38.9 59.2,40.0C59.5,41.1 59.9,42.9 60.0,43.5" fill="none" stroke="#fff" stroke-width="1.40" stroke-linecap="round"/><path d="M55.5,34.6C55.9,34.3 57.1,33.5 58.1,33.0C59.1,32.5 60.4,32.2 61.5,31.9C62.6,31.6 63.9,31.1 65.0,31.0C66.2,30.9 67.2,30.9 68.4,31.4C69.6,31.9 71.4,33.7 72.0,34.2" fill="none" stroke="#fff" stroke-width="1.40" stroke-linecap="round"/><path d="M47.5,29.3C47.6,29.0 47.7,28.0 48.0,27.4C48.3,26.8 49.0,25.9 49.2,25.6" fill="none" stroke="#fff" stroke-width="1.40" stroke-linecap="round"/><path d="M68.0,25.2C67.9,25.7 67.4,27.2 67.3,28.2C67.2,29.2 67.2,30.5 67.2,31.0" fill="none" stroke="#fff" stroke-width="1.40" stroke-linecap="round"/></g></g>
<g transform="translate(221.0,105.0)"><g filter="url(#disp)"><g clip-path="url(#sil)"><g filter="url(#f7)"><rect x="-5" y="-5" width="90" height="75" fill="#000"/><g clip-path="url(#cLO)"><rect x="-5" y="-5" width="90" height="75" fill="#a1a1a1"/><g filter="url(#bl)"><ellipse cx="12.0" cy="26.0" rx="10.0" ry="2.5" fill="#080808" fill-opacity="0.95"/><ellipse cx="10.0" cy="35.0" rx="10.0" ry="7.0" fill="#6b6b6b" fill-opacity="0.90"/><ellipse cx="48.0" cy="47.0" rx="10.0" ry="7.0" fill="#d6d6d6" fill-opacity="0.85"/><ellipse cx="51.0" cy="50.0" rx="5.0" ry="4.0" fill="#ededed" fill-opacity="0.60"/><ellipse cx="28.0" cy="53.0" rx="8.0" ry="5.0" fill="#919191" fill-opacity="0.50"/></g></g><g clip-path="url(#cUL)"><rect x="-5" y="-5" width="90" height="75" fill="#949494"/><g filter="url(#bl)"><ellipse cx="12.0" cy="17.0" rx="9.0" ry="4.0" fill="#6b6b6b" fill-opacity="0.90"/><ellipse cx="8.0" cy="21.0" rx="7.0" ry="3.0" fill="#0a0a0a" fill-opacity="0.95"/><ellipse cx="15.0" cy="9.0" rx="8.0" ry="3.0" fill="#a3a3a3" fill-opacity="0.60"/></g></g><g clip-path="url(#cUM)"><rect x="-5" y="-5" width="90" height="75" fill="#999999"/><g filter="url(#bl)"><ellipse cx="38.0" cy="16.0" rx="10.0" ry="7.0" fill="#6b6b6b" fill-opacity="0.95"/><ellipse cx="41.0" cy="26.0" rx="7.0" ry="2.5" fill="#080808" fill-opacity="0.95"/><ellipse cx="50.0" cy="4.0" rx="12.0" ry="4.0" fill="#a3a3a3" fill-opacity="0.60"/><ellipse cx="63.0" cy="8.0" rx="4.0" ry="4.0" fill="#c2c2c2" fill-opacity="0.50"/></g></g><g clip-path="url(#cMR)"><rect x="-5" y="-5" width="90" height="75" fill="#c2c2c2"/><g filter="url(#bl)"><ellipse cx="58.0" cy="30.0" rx="5.0" ry="3.0" fill="#dbdbdb" fill-opacity="0.60"/></g></g><g clip-path="url(#cRC)"><rect x="-5" y="-5" width="90" height="75" fill="#e0e0e0"/><g filter="url(#bl)"><ellipse cx="70.0" cy="40.0" rx="3.0" ry="4.0" fill="#f7f7f7" fill-opacity="0.70"/></g></g><g clip-path="url(#cRS)"><rect x="-5" y="-5" width="90" height="75" fill="#c7c7c7"/></g></g></g><path d="M6.8,23.5C7.3,23.5 8.7,23.6 10.0,23.6C11.3,23.6 13.3,23.4 14.8,23.4C16.3,23.3 17.7,23.2 19.1,23.3C20.5,23.4 22.2,23.9 23.4,24.2C24.6,24.5 25.5,25.0 26.5,25.4C27.5,25.8 28.4,26.4 29.5,26.7C30.6,27.0 31.6,27.1 33.0,27.4C34.4,27.6 36.3,28.0 38.0,28.2C39.7,28.4 41.4,28.6 43.0,28.8C44.6,29.0 46.8,29.2 47.5,29.3" fill="none" stroke="#fff" stroke-width="1.40" stroke-linecap="round"/><path d="M25.4,13.6C25.6,14.2 26.3,16.3 26.6,17.5C26.9,18.7 27.4,19.8 27.4,21.0C27.4,22.2 26.9,24.0 26.8,24.6" fill="none" stroke="#fff" stroke-width="1.40" stroke-linecap="round"/><path d="M47.5,29.3C47.8,29.7 48.3,30.8 49.0,31.5C49.7,32.2 50.9,33.2 51.9,33.8C52.9,34.4 54.0,34.8 55.0,35.3C56.0,35.8 57.4,36.0 58.1,36.8C58.8,37.6 58.9,38.9 59.2,40.0C59.5,41.1 59.9,42.9 60.0,43.5" fill="none" stroke="#fff" stroke-width="1.40" stroke-linecap="round"/><path d="M55.5,34.6C55.9,34.3 57.1,33.5 58.1,33.0C59.1,32.5 60.4,32.2 61.5,31.9C62.6,31.6 63.9,31.1 65.0,31.0C66.2,30.9 67.2,30.9 68.4,31.4C69.6,31.9 71.4,33.7 72.0,34.2" fill="none" stroke="#fff" stroke-width="1.40" stroke-linecap="round"/><path d="M47.5,29.3C47.6,29.0 47.7,28.0 48.0,27.4C48.3,26.8 49.0,25.9 49.2,25.6" fill="none" stroke="#fff" stroke-width="1.40" stroke-linecap="round"/><path d="M68.0,25.2C67.9,25.7 67.4,27.2 67.3,28.2C67.2,29.2 67.2,30.5 67.2,31.0" fill="none" stroke="#fff" stroke-width="1.40" stroke-linecap="round"/></g></g>
<g transform="translate(16.1,176.3)"><g filter="url(#disp)"><g clip-path="url(#sil)"><g filter="url(#f8)"><rect x="-5" y="-5" width="90" height="75" fill="#000"/><g clip-path="url(#cLO)"><rect x="-5" y="-5" width="90" height="75" fill="#6b6b6b"/><g filter="url(#bl)"><ellipse cx="9.0" cy="32.0" rx="8.0" ry="6.0" fill="#141414" fill-opacity="0.85"/><ellipse cx="16.0" cy="42.0" rx="6.0" ry="5.0" fill="#474747" fill-opacity="0.40"/><ellipse cx="42.0" cy="50.0" rx="13.0" ry="8.0" fill="#878787" fill-opacity="0.80"/><ellipse cx="30.0" cy="55.0" rx="6.0" ry="3.0" fill="#8f8f8f" fill-opacity="0.50"/><ellipse cx="52.0" cy="54.0" rx="4.0" ry="3.0" fill="#cccccc" fill-opacity="0.50"/></g></g><g clip-path="url(#cUL)"><rect x="-5" y="-5" width="90" height="75" fill="#666666"/><g filter="url(#bl)"><ellipse cx="9.0" cy="15.0" rx="7.0" ry="6.0" fill="#0d0d0d" fill-opacity="0.90"/></g></g><g clip-path="url(#cUM)"><rect x="-5" y="-5" width="90" height="75" fill="#a1a1a1"/><g filter="url(#bl)"><ellipse cx="30.0" cy="14.0" rx="5.0" ry="9.0" fill="#878787" fill-opacity="0.80"/><ellipse cx="63.0" cy="12.0" rx="3.0" ry="6.0" fill="#c2c2c2" fill-opacity="0.70"/><ellipse cx="45.0" cy="3.0" rx="8.0" ry="3.0" fill="#b2b2b2" fill-opacity="0.50"/></g></g><g clip-path="url(#cMR)"><rect x="-5" y="-5" width="90" height="75" fill="#cccccc"/><g filter="url(#bl)"><ellipse cx="57.0" cy="29.0" rx="4.0" ry="3.0" fill="#e0e0e0" fill-opacity="0.60"/></g></g><g clip-path="url(#cRC)"><rect x="-5" y="-5" width="90" height="75" fill="#787878"/></g><g clip-path="url(#cRS)"><rect x="-5" y="-5" width="90" height="75" fill="#7a7a7a"/></g></g></g><path d="M6.8,23.5C7.3,23.5 8.7,23.6 10.0,23.6C11.3,23.6 13.3,23.4 14.8,23.4C16.3,23.3 17.7,23.2 19.1,23.3C20.5,23.4 22.2,23.9 23.4,24.2C24.6,24.5 25.5,25.0 26.5,25.4C27.5,25.8 28.4,26.4 29.5,26.7C30.6,27.0 31.6,27.1 33.0,27.4C34.4,27.6 36.3,28.0 38.0,28.2C39.7,28.4 41.4,28.6 43.0,28.8C44.6,29.0 46.8,29.2 47.5,29.3" fill="none" stroke="#fff" stroke-width="1.40" stroke-linecap="round"/><path d="M25.4,13.6C25.6,14.2 26.3,16.3 26.6,17.5C26.9,18.7 27.4,19.8 27.4,21.0C27.4,22.2 26.9,24.0 26.8,24.6" fill="none" stroke="#fff" stroke-width="1.40" stroke-linecap="round"/><path d="M47.5,29.3C47.8,29.7 48.3,30.8 49.0,31.5C49.7,32.2 50.9,33.2 51.9,33.8C52.9,34.4 54.0,34.8 55.0,35.3C56.0,35.8 57.4,36.0 58.1,36.8C58.8,37.6 58.9,38.9 59.2,40.0C59.5,41.1 59.9,42.9 60.0,43.5" fill="none" stroke="#fff" stroke-width="1.40" stroke-linecap="round"/><path d="M55.5,34.6C55.9,34.3 57.1,33.5 58.1,33.0C59.1,32.5 60.4,32.2 61.5,31.9C62.6,31.6 63.9,31.1 65.0,31.0C66.2,30.9 67.2,30.9 68.4,31.4C69.6,31.9 71.4,33.7 72.0,34.2" fill="none" stroke="#fff" stroke-width="1.40" stroke-linecap="round"/><path d="M47.5,29.3C47.6,29.0 47.7,28.0 48.0,27.4C48.3,26.8 49.0,25.9 49.2,25.6" fill="none" stroke="#fff" stroke-width="1.40" stroke-linecap="round"/><path d="M68.0,25.2C67.9,25.7 67.4,27.2 67.3,28.2C67.2,29.2 67.2,30.5 67.2,31.0" fill="none" stroke="#fff" stroke-width="1.40" stroke-linecap="round"/></g></g>
<g transform="translate(95.6,176.3)"><g filter="url(#disp)"><g clip-path="url(#sil)"><g filter="url(#f9)"><rect x="-5" y="-5" width="90" height="75" fill="#000"/><g clip-path="url(#cLO)"><rect x="-5" y="-5" width="90" height="75" fill="#4e4e4e"/><g filter="url(#bl)"><ellipse cx="14.0" cy="34.0" rx="13.0" ry="9.0" fill="#181818" fill-opacity="0.90"/><ellipse cx="46.0" cy="47.0" rx="10.0" ry="8.0" fill="#8f8f8f" fill-opacity="0.90"/><ellipse cx="30.0" cy="45.0" rx="8.0" ry="8.0" fill="#676767" fill-opacity="0.60"/></g></g><g clip-path="url(#cUL)"><rect x="-5" y="-5" width="90" height="75" fill="#222222"/><g filter="url(#bl)"><ellipse cx="24.0" cy="17.0" rx="5.0" ry="6.0" fill="#676767" fill-opacity="0.80"/><ellipse cx="8.0" cy="15.0" rx="6.0" ry="6.0" fill="#161616" fill-opacity="0.60"/></g></g><g clip-path="url(#cUM)"><rect x="-5" y="-5" width="90" height="75" fill="#8f8f8f"/><g filter="url(#bl)"><ellipse cx="33.0" cy="12.0" rx="6.0" ry="9.0" fill="#676767" fill-opacity="0.85"/><ellipse cx="33.0" cy="21.0" rx="4.0" ry="5.0" fill="#1a1a1a" fill-opacity="0.90"/><ellipse cx="60.0" cy="14.0" rx="7.0" ry="9.0" fill="#d6d6d6" fill-opacity="0.90"/><ellipse cx="47.0" cy="10.0" rx="5.0" ry="8.0" fill="#a8a8a8" fill-opacity="0.60"/></g></g><g clip-path="url(#cMR)"><rect x="-5" y="-5" width="90" height="75" fill="#f5f5f5"/></g><g clip-path="url(#cRC)"><rect x="-5" y="-5" width="90" height="75" fill="#888888"/></g><g clip-path="url(#cRS)"><rect x="-5" y="-5" width="90" height="75" fill="#7c7c7c"/></g></g></g><path d="M6.8,23.5C7.3,23.5 8.7,23.6 10.0,23.6C11.3,23.6 13.3,23.4 14.8,23.4C16.3,23.3 17.7,23.2 19.1,23.3C20.5,23.4 22.2,23.9 23.4,24.2C24.6,24.5 25.5,25.0 26.5,25.4C27.5,25.8 28.4,26.4 29.5,26.7C30.6,27.0 31.6,27.1 33.0,27.4C34.4,27.6 36.3,28.0 38.0,28.2C39.7,28.4 41.4,28.6 43.0,28.8C44.6,29.0 46.8,29.2 47.5,29.3" fill="none" stroke="#fff" stroke-width="1.40" stroke-linecap="round"/><path d="M25.4,13.6C25.6,14.2 26.3,16.3 26.6,17.5C26.9,18.7 27.4,19.8 27.4,21.0C27.4,22.2 26.9,24.0 26.8,24.6" fill="none" stroke="#fff" stroke-width="1.40" stroke-linecap="round"/><path d="M47.5,29.3C47.8,29.7 48.3,30.8 49.0,31.5C49.7,32.2 50.9,33.2 51.9,33.8C52.9,34.4 54.0,34.8 55.0,35.3C56.0,35.8 57.4,36.0 58.1,36.8C58.8,37.6 58.9,38.9 59.2,40.0C59.5,41.1 59.9,42.9 60.0,43.5" fill="none" stroke="#fff" stroke-width="1.40" stroke-linecap="round"/><path d="M55.5,34.6C55.9,34.3 57.1,33.5 58.1,33.0C59.1,32.5 60.4,32.2 61.5,31.9C62.6,31.6 63.9,31.1 65.0,31.0C66.2,30.9 67.2,30.9 68.4,31.4C69.6,31.9 71.4,33.7 72.0,34.2" fill="none" stroke="#fff" stroke-width="1.40" stroke-linecap="round"/><path d="M47.5,29.3C47.6,29.0 47.7,28.0 48.0,27.4C48.3,26.8 49.0,25.9 49.2,25.6" fill="none" stroke="#fff" stroke-width="1.40" stroke-linecap="round"/><path d="M68.0,25.2C67.9,25.7 67.4,27.2 67.3,28.2C67.2,29.2 67.2,30.5 67.2,31.0" fill="none" stroke="#fff" stroke-width="1.40" stroke-linecap="round"/></g></g>
<g transform="translate(175.4,176.3)"><g filter="url(#disp)"><g clip-path="url(#sil)"><g filter="url(#f10)"><rect x="-5" y="-5" width="90" height="75" fill="#000"/><g clip-path="url(#cLO)"><rect x="-5" y="-5" width="90" height="75" fill="#333333"/><g filter="url(#bl)"><ellipse cx="12.0" cy="40.0" rx="14.0" ry="14.0" fill="#080808" fill-opacity="0.90"/><ellipse cx="33.0" cy="40.0" rx="6.0" ry="10.0" fill="#6b6b6b" fill-opacity="0.80"/><ellipse cx="48.0" cy="42.0" rx="9.0" ry="9.0" fill="#999999" fill-opacity="0.85"/><ellipse cx="52.0" cy="42.0" rx="3.5" ry="3.0" fill="#f2f2f2" fill-opacity="0.85"/><ellipse cx="28.0" cy="26.0" rx="4.0" ry="2.0" fill="#080808" fill-opacity="0.90"/></g></g><g clip-path="url(#cUL)"><rect x="-5" y="-5" width="90" height="75" fill="#0f0f0f"/><g filter="url(#bl)"><ellipse cx="21.0" cy="19.0" rx="6.0" ry="3.0" fill="#6b6b6b" fill-opacity="0.85"/></g></g><g clip-path="url(#cUM)"><rect x="-5" y="-5" width="90" height="75" fill="#999999"/><g filter="url(#bl)"><ellipse cx="29.0" cy="10.0" rx="5.0" ry="9.0" fill="#6b6b6b" fill-opacity="0.85"/><ellipse cx="60.0" cy="16.0" rx="6.0" ry="6.0" fill="#b2b2b2" fill-opacity="0.70"/><ellipse cx="50.0" cy="6.0" rx="8.0" ry="4.0" fill="#9e9e9e" fill-opacity="0.50"/></g></g><g clip-path="url(#cMR)"><rect x="-5" y="-5" width="90" height="75" fill="#b8b8b8"/><g filter="url(#bl)"><ellipse cx="57.0" cy="28.0" rx="4.0" ry="3.0" fill="#e0e0e0" fill-opacity="0.60"/></g></g><g clip-path="url(#cRC)"><rect x="-5" y="-5" width="90" height="75" fill="#b2b2b2"/><g filter="url(#bl)"><ellipse cx="66.0" cy="40.0" rx="3.0" ry="3.0" fill="#dbdbdb" fill-opacity="0.60"/></g></g><g clip-path="url(#cRS)"><rect x="-5" y="-5" width="90" height="75" fill="#a8a8a8"/></g></g></g><path d="M6.8,23.5C7.3,23.5 8.7,23.6 10.0,23.6C11.3,23.6 13.3,23.4 14.8,23.4C16.3,23.3 17.7,23.2 19.1,23.3C20.5,23.4 22.2,23.9 23.4,24.2C24.6,24.5 25.5,25.0 26.5,25.4C27.5,25.8 28.4,26.4 29.5,26.7C30.6,27.0 31.6,27.1 33.0,27.4C34.4,27.6 36.3,28.0 38.0,28.2C39.7,28.4 41.4,28.6 43.0,28.8C44.6,29.0 46.8,29.2 47.5,29.3" fill="none" stroke="#fff" stroke-width="1.40" stroke-linecap="round"/><path d="M25.4,13.6C25.6,14.2 26.3,16.3 26.6,17.5C26.9,18.7 27.4,19.8 27.4,21.0C27.4,22.2 26.9,24.0 26.8,24.6" fill="none" stroke="#fff" stroke-width="1.40" stroke-linecap="round"/><path d="M47.5,29.3C47.8,29.7 48.3,30.8 49.0,31.5C49.7,32.2 50.9,33.2 51.9,33.8C52.9,34.4 54.0,34.8 55.0,35.3C56.0,35.8 57.4,36.0 58.1,36.8C58.8,37.6 58.9,38.9 59.2,40.0C59.5,41.1 59.9,42.9 60.0,43.5" fill="none" stroke="#fff" stroke-width="1.40" stroke-linecap="round"/><path d="M55.5,34.6C55.9,34.3 57.1,33.5 58.1,33.0C59.1,32.5 60.4,32.2 61.5,31.9C62.6,31.6 63.9,31.1 65.0,31.0C66.2,30.9 67.2,30.9 68.4,31.4C69.6,31.9 71.4,33.7 72.0,34.2" fill="none" stroke="#fff" stroke-width="1.40" stroke-linecap="round"/><path d="M47.5,29.3C47.6,29.0 47.7,28.0 48.0,27.4C48.3,26.8 49.0,25.9 49.2,25.6" fill="none" stroke="#fff" stroke-width="1.40" stroke-linecap="round"/><path d="M68.0,25.2C67.9,25.7 67.4,27.2 67.3,28.2C67.2,29.2 67.2,30.5 67.2,31.0" fill="none" stroke="#fff" stroke-width="1.40" stroke-linecap="round"/></g></g>
<g transform="translate(255.5,176.3)"><g filter="url(#disp)"><g clip-path="url(#sil)"><g filter="url(#f11)"><rect x="-5" y="-5" width="90" height="75" fill="#000"/><g clip-path="url(#cLO)"><rect x="-5" y="-5" width="90" height="75" fill="#2e2e2e"/><g filter="url(#bl)"><ellipse cx="12.0" cy="40.0" rx="8.0" ry="6.0" fill="#080808" fill-opacity="0.70"/><ellipse cx="30.0" cy="52.0" rx="8.0" ry="5.0" fill="#080808" fill-opacity="0.70"/><ellipse cx="20.0" cy="32.0" rx="8.0" ry="5.0" fill="#616161" fill-opacity="0.60"/><ellipse cx="47.0" cy="47.0" rx="10.0" ry="8.0" fill="#7d7d7d" fill-opacity="0.70"/><ellipse cx="38.0" cy="36.0" rx="6.0" ry="4.0" fill="#5c5c5c" fill-opacity="0.50"/></g></g><g clip-path="url(#cUL)"><rect x="-5" y="-5" width="90" height="75" fill="#141414"/><g filter="url(#bl)"><ellipse cx="15.0" cy="14.0" rx="6.0" ry="5.0" fill="#404040" fill-opacity="0.50"/></g></g><g clip-path="url(#cUM)"><rect x="-5" y="-5" width="90" height="75" fill="#8c8c8c"/><g filter="url(#bl)"><ellipse cx="30.0" cy="8.0" rx="5.0" ry="5.0" fill="#6b6b6b" fill-opacity="0.70"/><ellipse cx="57.0" cy="14.0" rx="8.0" ry="9.0" fill="#a1a1a1" fill-opacity="0.80"/></g></g><g clip-path="url(#cMR)"><rect x="-5" y="-5" width="90" height="75" fill="#a8a8a8"/><g filter="url(#bl)"><ellipse cx="52.0" cy="31.0" rx="4.0" ry="3.0" fill="#cccccc" fill-opacity="0.80"/></g></g><g clip-path="url(#cRC)"><rect x="-5" y="-5" width="90" height="75" fill="#1a1a1a"/></g><g clip-path="url(#cRS)"><rect x="-5" y="-5" width="90" height="75" fill="#333333"/></g></g></g><path d="M6.8,23.5C7.3,23.5 8.7,23.6 10.0,23.6C11.3,23.6 13.3,23.4 14.8,23.4C16.3,23.3 17.7,23.2 19.1,23.3C20.5,23.4 22.2,23.9 23.4,24.2C24.6,24.5 25.5,25.0 26.5,25.4C27.5,25.8 28.4,26.4 29.5,26.7C30.6,27.0 31.6,27.1 33.0,27.4C34.4,27.6 36.3,28.0 38.0,28.2C39.7,28.4 41.4,28.6 43.0,28.8C44.6,29.0 46.8,29.2 47.5,29.3" fill="none" stroke="#fff" stroke-width="1.40" stroke-linecap="round"/><path d="M25.4,13.6C25.6,14.2 26.3,16.3 26.6,17.5C26.9,18.7 27.4,19.8 27.4,21.0C27.4,22.2 26.9,24.0 26.8,24.6" fill="none" stroke="#fff" stroke-width="1.40" stroke-linecap="round"/><path d="M47.5,29.3C47.8,29.7 48.3,30.8 49.0,31.5C49.7,32.2 50.9,33.2 51.9,33.8C52.9,34.4 54.0,34.8 55.0,35.3C56.0,35.8 57.4,36.0 58.1,36.8C58.8,37.6 58.9,38.9 59.2,40.0C59.5,41.1 59.9,42.9 60.0,43.5" fill="none" stroke="#fff" stroke-width="1.40" stroke-linecap="round"/><path d="M55.5,34.6C55.9,34.3 57.1,33.5 58.1,33.0C59.1,32.5 60.4,32.2 61.5,31.9C62.6,31.6 63.9,31.1 65.0,31.0C66.2,30.9 67.2,30.9 68.4,31.4C69.6,31.9 71.4,33.7 72.0,34.2" fill="none" stroke="#fff" stroke-width="1.40" stroke-linecap="round"/><path d="M47.5,29.3C47.6,29.0 47.7,28.0 48.0,27.4C48.3,26.8 49.0,25.9 49.2,25.6" fill="none" stroke="#fff" stroke-width="1.40" stroke-linecap="round"/><path d="M68.0,25.2C67.9,25.7 67.4,27.2 67.3,28.2C67.2,29.2 67.2,30.5 67.2,31.0" fill="none" stroke="#fff" stroke-width="1.40" stroke-linecap="round"/></g></g>
<text x="53.5" y="27.5" font-size="8.30" text-anchor="middle" font-weight="normal" fill="#1a1a1a" stroke="#1a1a1a" stroke-width="0.06" >Prf1<tspan font-size="5.2" dy="-3.2">-/-</tspan></text>
<text x="133.0" y="27.5" font-size="8.30" text-anchor="middle" font-weight="normal" fill="#1a1a1a" stroke="#1a1a1a" stroke-width="0.06" >Il18tg</text>
<text x="213.0" y="27.5" font-size="8.30" text-anchor="middle" font-weight="normal" fill="#1a1a1a" stroke="#1a1a1a" stroke-width="0.06" >Prf1<tspan font-size="5.2" dy="-3.2">+/-</tspan><tspan dy="3.2"> Il18tg</tspan></text>
<text x="294.0" y="27.5" font-size="8.30" text-anchor="middle" font-weight="normal" fill="#1a1a1a" stroke="#1a1a1a" stroke-width="0.06" >Prf1<tspan font-size="5.2" dy="-3.2">-/-</tspan><tspan dy="3.2"> Il18tg</tspan></text>
<text x="98.0" y="101.2" font-size="8.30" text-anchor="middle" font-weight="normal" fill="#1a1a1a" stroke="#1a1a1a" stroke-width="0.06" >CD4</text>
<text x="178.0" y="101.2" font-size="8.30" text-anchor="middle" font-weight="normal" fill="#1a1a1a" stroke="#1a1a1a" stroke-width="0.06" >CD8</text>
<text x="256.7" y="101.2" font-size="8.30" text-anchor="middle" font-weight="normal" fill="#1a1a1a" stroke="#1a1a1a" stroke-width="0.06" >CD44</text>
<text x="53.3" y="172.0" font-size="8.30" text-anchor="middle" font-weight="normal" fill="#1a1a1a" stroke="#1a1a1a" stroke-width="0.06" >PD-1</text>
<text x="134.6" y="172.0" font-size="8.30" text-anchor="middle" font-weight="normal" fill="#1a1a1a" stroke="#1a1a1a" stroke-width="0.06" >Tim-3</text>
<text x="213.4" y="172.0" font-size="8.30" text-anchor="middle" font-weight="normal" fill="#1a1a1a" stroke="#1a1a1a" stroke-width="0.06" >CD39</text>
<text x="293.8" y="172.0" font-size="8.30" text-anchor="middle" font-weight="normal" fill="#1a1a1a" stroke="#1a1a1a" stroke-width="0.06" >Tigit</text>
<text x="7.0" y="17.0" font-size="11.80" text-anchor="start" font-weight="bold" fill="#000" stroke="#000" stroke-width="0.00" >A</text>
<text x="347.3" y="17.0" font-size="11.80" text-anchor="start" font-weight="bold" fill="#000" stroke="#000" stroke-width="0.00" >B</text>
<text x="7.3" y="301.3" font-size="11.80" text-anchor="start" font-weight="bold" fill="#000" stroke="#000" stroke-width="0.00" >C</text>
<g>
<path d="M384.0,65.1L384.0,65.1C385.2,65.0 389.1,65.2 391.1,64.3C393.1,63.4 394.7,61.3 395.8,59.6C396.9,57.9 397.0,56.9 397.8,54.0C398.6,51.1 399.5,45.1 400.5,42.2C401.5,39.3 402.9,39.2 403.9,36.5C404.9,33.8 405.9,28.0 406.6,25.8C407.3,23.6 407.2,23.6 407.9,23.1C408.6,22.6 409.8,23.0 410.6,22.8C411.4,22.6 411.9,21.1 412.6,22.0C413.3,22.9 413.7,26.2 414.6,28.5C415.5,30.8 416.9,32.9 418.0,35.9C419.1,38.9 420.4,43.6 421.4,46.6C422.4,49.6 423.0,51.8 424.0,54.0C425.0,56.2 425.9,58.7 427.4,60.1C428.9,61.5 430.8,62.2 432.8,62.6C434.8,63.0 437.0,62.4 439.5,62.6C442.0,62.8 445.0,63.5 447.6,63.8C450.2,64.1 446.4,64.5 455.0,64.6C463.6,64.7 492.1,64.6 499.5,64.6L499.5,65.1Z" fill="#d03a2e" fill-opacity="0.60" stroke="none"/>
<path d="M384.0,65.1C385.2,65.0 389.1,65.2 391.1,64.3C393.1,63.4 394.7,61.3 395.8,59.6C396.9,57.9 397.0,56.9 397.8,54.0C398.6,51.1 399.5,45.1 400.5,42.2C401.5,39.3 402.9,39.2 403.9,36.5C404.9,33.8 405.9,28.0 406.6,25.8C407.3,23.6 407.2,23.6 407.9,23.1C408.6,22.6 409.8,23.0 410.6,22.8C411.4,22.6 411.9,21.1 412.6,22.0C413.3,22.9 413.7,26.2 414.6,28.5C415.5,30.8 416.9,32.9 418.0,35.9C419.1,38.9 420.4,43.6 421.4,46.6C422.4,49.6 423.0,51.8 424.0,54.0C425.0,56.2 425.9,58.7 427.4,60.1C428.9,61.5 430.8,62.2 432.8,62.6C434.8,63.0 437.0,62.4 439.5,62.6C442.0,62.8 445.0,63.5 447.6,63.8C450.2,64.1 446.4,64.5 455.0,64.6C463.6,64.7 492.1,64.6 499.5,64.6" fill="none" stroke="#d23a2c" stroke-width="1.1"/>
<path d="M384.0,88.5L384.0,88.5C385.4,88.2 390.1,88.1 392.2,86.9C394.3,85.7 395.5,83.4 396.8,81.5C398.1,79.6 398.7,78.2 399.9,75.4C401.1,72.6 402.8,67.9 403.8,64.6C404.8,61.3 405.2,58.3 406.1,55.4C407.0,52.5 408.4,48.5 409.2,46.9C410.0,45.3 410.1,45.7 410.7,45.8C411.3,45.9 412.1,47.2 413.0,47.4C413.9,47.6 415.2,46.6 416.1,46.9C417.0,47.2 417.6,47.8 418.4,49.2C419.2,50.6 419.8,53.1 420.7,55.4C421.6,57.7 422.9,60.8 423.8,63.1C424.7,65.4 425.2,67.5 426.1,69.2C427.0,70.9 427.9,71.7 429.2,73.1C430.5,74.5 432.3,76.6 433.8,77.7C435.3,78.8 437.0,79.1 438.4,79.7C439.8,80.3 440.9,80.9 442.2,81.5C443.5,82.1 444.7,82.5 446.1,83.3C447.5,84.0 449.2,85.2 450.7,86.0C452.2,86.8 453.8,87.7 455.3,88.1C456.9,88.5 452.6,88.4 460.0,88.5C467.4,88.6 492.9,88.5 499.5,88.5L499.5,88.5Z" fill="#3d4ca2" fill-opacity="0.50" stroke="none"/>
<path d="M384.0,88.5C385.4,88.2 390.1,88.1 392.2,86.9C394.3,85.7 395.5,83.4 396.8,81.5C398.1,79.6 398.7,78.2 399.9,75.4C401.1,72.6 402.8,67.9 403.8,64.6C404.8,61.3 405.2,58.3 406.1,55.4C407.0,52.5 408.4,48.5 409.2,46.9C410.0,45.3 410.1,45.7 410.7,45.8C411.3,45.9 412.1,47.2 413.0,47.4C413.9,47.6 415.2,46.6 416.1,46.9C417.0,47.2 417.6,47.8 418.4,49.2C419.2,50.6 419.8,53.1 420.7,55.4C421.6,57.7 422.9,60.8 423.8,63.1C424.7,65.4 425.2,67.5 426.1,69.2C427.0,70.9 427.9,71.7 429.2,73.1C430.5,74.5 432.3,76.6 433.8,77.7C435.3,78.8 437.0,79.1 438.4,79.7C439.8,80.3 440.9,80.9 442.2,81.5C443.5,82.1 444.7,82.5 446.1,83.3C447.5,84.0 449.2,85.2 450.7,86.0C452.2,86.8 453.8,87.7 455.3,88.1C456.9,88.5 452.6,88.4 460.0,88.5C467.4,88.6 492.9,88.5 499.5,88.5" fill="none" stroke="#3d4ca2" stroke-width="1.1"/>
<path d="M384.0,111.4L384.0,111.4C385.6,111.0 391.4,110.3 393.8,109.2C396.2,108.1 397.1,106.4 398.4,104.6C399.7,102.8 400.5,101.1 401.5,98.5C402.5,95.9 403.5,92.5 404.5,89.2C405.5,85.9 406.6,81.5 407.6,78.5C408.6,75.5 409.7,73.0 410.7,71.5C411.7,70.0 412.6,69.2 413.5,69.5C414.4,69.8 415.2,71.6 416.1,73.1C417.1,74.6 418.2,76.5 419.2,78.5C420.2,80.5 421.2,83.5 422.2,85.4C423.2,87.3 424.3,88.7 425.3,90.0C426.3,91.3 427.2,92.3 428.4,93.1C429.5,93.9 430.9,94.6 432.2,94.6C433.5,94.6 434.9,93.5 436.1,93.1C437.3,92.7 438.3,92.5 439.2,92.3C440.1,92.1 440.7,91.8 441.5,92.0C442.3,92.2 442.9,92.7 443.8,93.8C444.7,94.9 445.7,96.7 446.8,98.5C447.9,100.3 449.3,102.8 450.7,104.6C452.1,106.4 453.8,108.3 455.3,109.4C456.8,110.5 452.5,111.1 459.9,111.4C467.3,111.7 492.9,111.4 499.5,111.4L499.5,111.4Z" fill="#b882c0" fill-opacity="0.45" stroke="none"/>
<path d="M384.0,111.4C385.6,111.0 391.4,110.3 393.8,109.2C396.2,108.1 397.1,106.4 398.4,104.6C399.7,102.8 400.5,101.1 401.5,98.5C402.5,95.9 403.5,92.5 404.5,89.2C405.5,85.9 406.6,81.5 407.6,78.5C408.6,75.5 409.7,73.0 410.7,71.5C411.7,70.0 412.6,69.2 413.5,69.5C414.4,69.8 415.2,71.6 416.1,73.1C417.1,74.6 418.2,76.5 419.2,78.5C420.2,80.5 421.2,83.5 422.2,85.4C423.2,87.3 424.3,88.7 425.3,90.0C426.3,91.3 427.2,92.3 428.4,93.1C429.5,93.9 430.9,94.6 432.2,94.6C433.5,94.6 434.9,93.5 436.1,93.1C437.3,92.7 438.3,92.5 439.2,92.3C440.1,92.1 440.7,91.8 441.5,92.0C442.3,92.2 442.9,92.7 443.8,93.8C444.7,94.9 445.7,96.7 446.8,98.5C447.9,100.3 449.3,102.8 450.7,104.6C452.1,106.4 453.8,108.3 455.3,109.4C456.8,110.5 452.5,111.1 459.9,111.4C467.3,111.7 492.9,111.4 499.5,111.4" fill="none" stroke="#c291c8" stroke-width="1.1"/>
<path d="M396.1,133.5L396.1,133.2C397.0,132.5 399.8,130.7 401.5,128.8C403.2,126.9 404.7,124.5 406.1,121.9C407.5,119.4 408.8,116.3 409.9,113.5C411.0,110.7 412.0,107.5 413.0,105.0C414.0,102.5 415.1,100.6 416.1,98.8C417.1,97.0 418.2,95.3 419.2,94.2C420.2,93.1 421.3,92.0 422.2,91.9C423.1,91.8 423.7,92.7 424.5,93.5C425.3,94.3 425.9,95.2 426.8,96.5C427.7,97.8 429.0,99.7 429.9,101.2C430.8,102.8 431.4,104.3 432.2,105.8C433.0,107.3 433.5,108.7 434.5,110.4C435.5,112.1 437.2,114.4 438.4,115.8C439.6,117.2 440.5,117.6 441.5,118.8C442.5,120.0 443.2,121.2 444.5,122.7C445.8,124.2 447.6,126.3 449.2,128.1C450.8,129.8 453.0,132.3 453.8,133.2L453.8,133.5Z" fill="#7476c0" fill-opacity="0.55" stroke="none"/>
<path d="M396.1,133.2C397.0,132.5 399.8,130.7 401.5,128.8C403.2,126.9 404.7,124.5 406.1,121.9C407.5,119.4 408.8,116.3 409.9,113.5C411.0,110.7 412.0,107.5 413.0,105.0C414.0,102.5 415.1,100.6 416.1,98.8C417.1,97.0 418.2,95.3 419.2,94.2C420.2,93.1 421.3,92.0 422.2,91.9C423.1,91.8 423.7,92.7 424.5,93.5C425.3,94.3 425.9,95.2 426.8,96.5C427.7,97.8 429.0,99.7 429.9,101.2C430.8,102.8 431.4,104.3 432.2,105.8C433.0,107.3 433.5,108.7 434.5,110.4C435.5,112.1 437.2,114.4 438.4,115.8C439.6,117.2 440.5,117.6 441.5,118.8C442.5,120.0 443.2,121.2 444.5,122.7C445.8,124.2 447.6,126.3 449.2,128.1C450.8,129.8 453.0,132.3 453.8,133.2" fill="none" stroke="#7273bd" stroke-width="1.1"/>
<line x1="383.5" y1="65.1" x2="500.0" y2="65.1" stroke="#d23a2c" stroke-width="0.90" />
<line x1="383.5" y1="88.5" x2="500.0" y2="88.5" stroke="#3d4ca2" stroke-width="0.90" />
<line x1="383.5" y1="111.4" x2="500.0" y2="111.4" stroke="#c291c8" stroke-width="0.90" />
<rect x="383.5" y="17.0" width="116.5" height="116.5" fill="none" stroke="#111" stroke-width="1.1"/>
<path d="M384.0,133.5v2.8M388.4,133.5v2.0M391.0,133.5v2.0M392.8,133.5v2.0M394.2,133.5v2.0M395.4,133.5v2.0M396.3,133.5v2.0M397.2,133.5v2.0M397.9,133.5v2.0M398.6,133.5v2.8M403.0,133.5v2.0M405.6,133.5v2.0M407.4,133.5v2.0M408.8,133.5v2.0M410.0,133.5v2.0M410.9,133.5v2.0M411.8,133.5v2.0M412.5,133.5v2.0M413.2,133.5v2.8M417.6,133.5v2.0M420.2,133.5v2.0M422.0,133.5v2.0M423.4,133.5v2.0M424.6,133.5v2.0M425.5,133.5v2.0M426.4,133.5v2.0M427.1,133.5v2.0M427.8,133.5v2.8M432.2,133.5v2.0M434.8,133.5v2.0M436.6,133.5v2.0M438.0,133.5v2.0M439.2,133.5v2.0M440.1,133.5v2.0M441.0,133.5v2.0M441.7,133.5v2.0M442.4,133.5v2.8M446.8,133.5v2.0M449.4,133.5v2.0M451.2,133.5v2.0M452.6,133.5v2.0M453.8,133.5v2.0M454.7,133.5v2.0M455.6,133.5v2.0M456.3,133.5v2.0M457.0,133.5v2.8M461.4,133.5v2.0M464.0,133.5v2.0M465.8,133.5v2.0M467.2,133.5v2.0M468.4,133.5v2.0M469.3,133.5v2.0M470.2,133.5v2.0M470.9,133.5v2.0M471.6,133.5v2.8M476.0,133.5v2.0M478.6,133.5v2.0M480.4,133.5v2.0M481.8,133.5v2.0M483.0,133.5v2.0M483.9,133.5v2.0M484.8,133.5v2.0M485.5,133.5v2.0M486.2,133.5v2.8M490.6,133.5v2.0M493.2,133.5v2.0M495.0,133.5v2.0M496.4,133.5v2.0M497.6,133.5v2.0M498.5,133.5v2.0M499.4,133.5v2.0" stroke="#111" stroke-width="0.85" fill="none"/>
</g>
<text x="452.5" y="57.6" font-size="8.40" text-anchor="start" font-weight="normal" fill="#d23a2c" stroke="#d23a2c" stroke-width="0.18" textLength="21.9" lengthAdjust="spacingAndGlyphs">Prf1-/-</text>
<text x="452.5" y="78.2" font-size="8.40" text-anchor="start" font-weight="normal" fill="#4452a6" stroke="#4452a6" stroke-width="0.18" textLength="19.7" lengthAdjust="spacingAndGlyphs">Il18tg</text>
<text x="452.5" y="102.0" font-size="8.40" text-anchor="start" font-weight="normal" fill="#c08ec6" stroke="#c08ec6" stroke-width="0.18" textLength="44.3" lengthAdjust="spacingAndGlyphs">Prf1+/-Il18tg</text>
<text x="452.5" y="128.2" font-size="8.40" text-anchor="start" font-weight="normal" fill="#7b7cc0" stroke="#7b7cc0" stroke-width="0.18" textLength="41.7" lengthAdjust="spacingAndGlyphs">Prf1-/-Il18tg</text>
<text x="386.0" y="145.4" font-size="8.80" text-anchor="start" font-weight="normal" fill="#1a1a1a" stroke="#1a1a1a" stroke-width="0.18" textLength="16.2" lengthAdjust="spacingAndGlyphs">IFNg</text>
<path d="M405.6,142.3h6.6" stroke="#222" stroke-width="1.0" fill="none"/><path d="M413.6,142.3l-4.2,-2.6v5.2z" fill="#222"/>
<line x1="383.5" y1="156.5" x2="383.5" y2="248.8" stroke="#111" stroke-width="1.10" />
<line x1="383.0" y1="248.3" x2="497.5" y2="248.3" stroke="#111" stroke-width="1.10" />
<line x1="380.3" y1="248.3" x2="383.5" y2="248.3" stroke="#111" stroke-width="1.00" />
<text x="376.6" y="251.2" font-size="8.20" text-anchor="end" font-weight="normal" fill="#1a1a1a" stroke="#1a1a1a" stroke-width="0.18" >0</text>
<line x1="380.3" y1="218.6" x2="383.5" y2="218.6" stroke="#111" stroke-width="1.00" />
<text x="376.6" y="221.5" font-size="8.20" text-anchor="end" font-weight="normal" fill="#1a1a1a" stroke="#1a1a1a" stroke-width="0.18" >10</text>
<line x1="380.3" y1="188.9" x2="383.5" y2="188.9" stroke="#111" stroke-width="1.00" />
<text x="376.6" y="191.8" font-size="8.20" text-anchor="end" font-weight="normal" fill="#1a1a1a" stroke="#1a1a1a" stroke-width="0.18" >20</text>
<line x1="380.3" y1="159.2" x2="383.5" y2="159.2" stroke="#111" stroke-width="1.00" />
<text x="376.6" y="162.1" font-size="8.20" text-anchor="end" font-weight="normal" fill="#1a1a1a" stroke="#1a1a1a" stroke-width="0.18" >30</text>
<rect x="392.5" y="236.7" width="17.0" height="11.6" fill="#d1291a" stroke="#b81c10" stroke-width="0.6"/>
<line x1="401.0" y1="236.7" x2="401.0" y2="235.5" stroke="#d1291a" stroke-width="1.00" />
<line x1="396.8" y1="235.5" x2="405.2" y2="235.5" stroke="#d1291a" stroke-width="1.00" />
<line x1="401.0" y1="248.3" x2="401.0" y2="251.0" stroke="#111" stroke-width="1.00" />
<rect x="418.8" y="220.1" width="17.0" height="28.2" fill="#3d4a9c" stroke="#2e3b8a" stroke-width="0.6"/>
<line x1="427.3" y1="220.1" x2="427.3" y2="213.6" stroke="#3d4a9c" stroke-width="1.00" />
<line x1="423.1" y1="213.6" x2="431.5" y2="213.6" stroke="#3d4a9c" stroke-width="1.00" />
<line x1="427.3" y1="248.3" x2="427.3" y2="251.0" stroke="#111" stroke-width="1.00" />
<rect x="444.9" y="177.3" width="17.0" height="71.0" fill="#b58dc1" stroke="#a07bb0" stroke-width="0.6"/>
<line x1="453.4" y1="177.3" x2="453.4" y2="167.2" stroke="#b58dc1" stroke-width="1.00" />
<line x1="449.2" y1="167.2" x2="457.6" y2="167.2" stroke="#b58dc1" stroke-width="1.00" />
<line x1="453.4" y1="248.3" x2="453.4" y2="251.0" stroke="#111" stroke-width="1.00" />
<rect x="471.3" y="172.6" width="17.0" height="75.7" fill="#7b7cbc" stroke="#6a6bae" stroke-width="0.6"/>
<line x1="479.8" y1="172.6" x2="479.8" y2="170.8" stroke="#7b7cbc" stroke-width="1.00" />
<line x1="475.6" y1="170.8" x2="484.0" y2="170.8" stroke="#7b7cbc" stroke-width="1.00" />
<line x1="479.8" y1="248.3" x2="479.8" y2="251.0" stroke="#111" stroke-width="1.00" />
<line x1="402.3" y1="159.4" x2="480.8" y2="159.4" stroke="#222" stroke-width="1.00" />
<line x1="424.6" y1="165.4" x2="480.8" y2="165.4" stroke="#222" stroke-width="1.00" />
<circle cx="435.85" cy="156.10" r="1.05" fill="#111"/>
<circle cx="439.35" cy="156.10" r="1.05" fill="#111"/>
<circle cx="442.85" cy="156.10" r="1.05" fill="#111"/>
<circle cx="446.35" cy="156.10" r="1.05" fill="#111"/>
<circle cx="449.10" cy="163.10" r="1.05" fill="#111"/>
<circle cx="452.60" cy="163.10" r="1.05" fill="#111"/>
<circle cx="456.10" cy="163.10" r="1.05" fill="#111"/>
<text x="386.0" y="261.6" font-size="8.20" text-anchor="end" font-weight="normal" fill="#222" stroke="#222" stroke-width="0.18" font-style="italic">Prf1</text>
<text x="386.0" y="274.4" font-size="8.20" text-anchor="end" font-weight="normal" fill="#222" stroke="#222" stroke-width="0.18" >Il18</text>
<text x="401.0" y="261.6" font-size="8.20" text-anchor="middle" font-weight="normal" fill="#1a1a1a" stroke="#1a1a1a" stroke-width="0.18" >-/-</text>
<text x="401.0" y="274.4" font-size="8.20" text-anchor="middle" font-weight="normal" fill="#1a1a1a" stroke="#1a1a1a" stroke-width="0.18" >wt</text>
<text x="427.3" y="261.6" font-size="8.20" text-anchor="middle" font-weight="normal" fill="#1a1a1a" stroke="#1a1a1a" stroke-width="0.18" >+ /+</text>
<text x="427.3" y="274.4" font-size="8.20" text-anchor="middle" font-weight="normal" fill="#1a1a1a" stroke="#1a1a1a" stroke-width="0.18" >tg</text>
<text x="453.4" y="261.6" font-size="8.20" text-anchor="middle" font-weight="normal" fill="#1a1a1a" stroke="#1a1a1a" stroke-width="0.18" >+/-</text>
<text x="453.4" y="274.4" font-size="8.20" text-anchor="middle" font-weight="normal" fill="#1a1a1a" stroke="#1a1a1a" stroke-width="0.18" >tg</text>
<text x="479.8" y="261.6" font-size="8.20" text-anchor="middle" font-weight="normal" fill="#1a1a1a" stroke="#1a1a1a" stroke-width="0.18" >-/-</text>
<text x="479.8" y="274.4" font-size="8.20" text-anchor="middle" font-weight="normal" fill="#1a1a1a" stroke="#1a1a1a" stroke-width="0.18" >tg</text>
<text transform="translate(362.6,201.9) rotate(-90)" x="0" y="0" font-size="8.80" text-anchor="middle" fill="#1a1a1a" stroke="#1a1a1a" stroke-width="0.18" textLength="84.5" lengthAdjust="spacingAndGlyphs">IFNg+ (% of CD8+ cells)</text>
<line x1="49.6" y1="306.0" x2="49.6" y2="401.5" stroke="#111" stroke-width="1.10" />
<line x1="46.6" y1="400.9" x2="49.6" y2="400.9" stroke="#111" stroke-width="1.00" />
<text x="42.6" y="403.8" font-size="8.20" text-anchor="end" font-weight="normal" fill="#1a1a1a" stroke="#1a1a1a" stroke-width="0.18" >90</text>
<line x1="46.6" y1="377.6" x2="49.6" y2="377.6" stroke="#111" stroke-width="1.00" />
<text x="42.6" y="380.5" font-size="8.20" text-anchor="end" font-weight="normal" fill="#1a1a1a" stroke="#1a1a1a" stroke-width="0.18" >100</text>
<line x1="46.6" y1="354.3" x2="49.6" y2="354.3" stroke="#111" stroke-width="1.00" />
<text x="42.6" y="357.2" font-size="8.20" text-anchor="end" font-weight="normal" fill="#1a1a1a" stroke="#1a1a1a" stroke-width="0.18" >110</text>
<line x1="46.6" y1="331.0" x2="49.6" y2="331.0" stroke="#111" stroke-width="1.00" />
<text x="42.6" y="333.9" font-size="8.20" text-anchor="end" font-weight="normal" fill="#1a1a1a" stroke="#1a1a1a" stroke-width="0.18" >120</text>
<line x1="46.6" y1="307.7" x2="49.6" y2="307.7" stroke="#111" stroke-width="1.00" />
<text x="42.6" y="310.6" font-size="8.20" text-anchor="end" font-weight="normal" fill="#1a1a1a" stroke="#1a1a1a" stroke-width="0.18" >130</text>
<line x1="49.0" y1="401.0" x2="191.5" y2="401.0" stroke="#111" stroke-width="1.30" />
<path d="M49.6,401v3.2M58.9,401v2.0M68.2,401v2.0M77.5,401v2.0M86.8,401v2.0M96.1,401v3.2M105.4,401v2.0M114.7,401v2.0M124.0,401v2.0M133.3,401v2.0M142.6,401v3.2M151.9,401v2.0M161.2,401v2.0M170.5,401v2.0M179.8,401v2.0M189.1,401v3.2" stroke="#111" stroke-width="0.9"/>
<text x="49.6" y="413.6" font-size="8.20" text-anchor="middle" font-weight="normal" fill="#1a1a1a" stroke="#1a1a1a" stroke-width="0.18" >0</text>
<text x="96.1" y="413.6" font-size="8.20" text-anchor="middle" font-weight="normal" fill="#1a1a1a" stroke="#1a1a1a" stroke-width="0.18" >5</text>
<text x="142.6" y="413.6" font-size="8.20" text-anchor="middle" font-weight="normal" fill="#1a1a1a" stroke="#1a1a1a" stroke-width="0.18" >10</text>
<text x="189.1" y="413.6" font-size="8.20" text-anchor="middle" font-weight="normal" fill="#1a1a1a" stroke="#1a1a1a" stroke-width="0.18" >15</text>
<text transform="translate(23.9,353.0) rotate(-90)" x="0" y="0" font-size="8.80" text-anchor="middle" fill="#1a1a1a" stroke="#1a1a1a" stroke-width="0.18" textLength="62.4" lengthAdjust="spacingAndGlyphs">% of initial weight</text>
<polyline points="49.6,377.6 77.5,372.9 105.4,352.0 133.3,352.0 161.2,342.7 189.1,327.0" fill="none" stroke="#847abf" stroke-width="1.0"/>
<polyline points="49.6,377.6 77.5,384.6 105.4,377.6 133.3,375.3 161.2,372.0 189.1,357.1" fill="none" stroke="#847abf" stroke-width="1.0"/>
<path d="M77.5,364.6V381.3M75.0,364.6h5M75.0,381.3h5" stroke="#847abf" stroke-width="0.9" fill="none"/>
<path d="M105.4,348.7V355.2M102.9,348.7h5M102.9,355.2h5" stroke="#847abf" stroke-width="0.9" fill="none"/>
<path d="M133.3,344.3V359.7M130.8,344.3h5M130.8,359.7h5" stroke="#847abf" stroke-width="0.9" fill="none"/>
<path d="M161.2,337.3V348.0M158.7,337.3h5M158.7,348.0h5" stroke="#847abf" stroke-width="0.9" fill="none"/>
<path d="M189.1,320.0V334.0M186.6,320.0h5M186.6,334.0h5" stroke="#847abf" stroke-width="0.9" fill="none"/>
<path d="M77.5,379.0V390.2M75.0,379.0h5M75.0,390.2h5" stroke="#847abf" stroke-width="0.9" fill="none"/>
<path d="M105.4,371.8V383.4M102.9,371.8h5M102.9,383.4h5" stroke="#847abf" stroke-width="0.9" fill="none"/>
<path d="M133.3,371.3V379.2M130.8,371.3h5M130.8,379.2h5" stroke="#847abf" stroke-width="0.9" fill="none"/>
<path d="M189.1,348.0V366.2M186.6,348.0h5M186.6,366.2h5" stroke="#847abf" stroke-width="0.9" fill="none"/>
<circle cx="49.6" cy="377.6" r="3.2" fill="#847abf"/>
<circle cx="77.5" cy="384.6" r="3.2" fill="#847abf"/>
<circle cx="105.4" cy="377.6" r="3.2" fill="#847abf"/>
<circle cx="133.3" cy="375.3" r="3.2" fill="#847abf"/>
<circle cx="161.2" cy="372.0" r="3.2" fill="#847abf"/>
<circle cx="189.1" cy="357.1" r="3.2" fill="#847abf"/>
<circle cx="77.5" cy="372.9" r="3.10" fill="#fff" stroke="#847abf" stroke-width="1.0"/>
<circle cx="105.4" cy="352.0" r="3.10" fill="#fff" stroke="#847abf" stroke-width="1.0"/>
<circle cx="133.3" cy="352.0" r="3.10" fill="#fff" stroke="#847abf" stroke-width="1.0"/>
<circle cx="161.2" cy="342.7" r="3.10" fill="#fff" stroke="#847abf" stroke-width="1.0"/>
<circle cx="189.1" cy="327.0" r="3.10" fill="#fff" stroke="#847abf" stroke-width="1.0"/>
<circle cx="49.6" cy="377.6" r="3.4" fill="#847abf"/>
<circle cx="188.90" cy="315.10" r="1.05" fill="#111"/>
<line x1="235.5" y1="305.0" x2="235.5" y2="401.5" stroke="#111" stroke-width="1.10" />
<line x1="232.5" y1="401.0" x2="235.5" y2="401.0" stroke="#111" stroke-width="1.00" />
<text x="228.5" y="403.9" font-size="8.20" text-anchor="end" font-weight="normal" fill="#1a1a1a" stroke="#1a1a1a" stroke-width="0.18" >1</text>
<line x1="232.5" y1="370.0" x2="235.5" y2="370.0" stroke="#111" stroke-width="1.00" />
<text x="228.5" y="372.9" font-size="8.20" text-anchor="end" font-weight="normal" fill="#1a1a1a" stroke="#1a1a1a" stroke-width="0.18" >2</text>
<line x1="232.5" y1="339.0" x2="235.5" y2="339.0" stroke="#111" stroke-width="1.00" />
<text x="228.5" y="341.9" font-size="8.20" text-anchor="end" font-weight="normal" fill="#1a1a1a" stroke="#1a1a1a" stroke-width="0.18" >3</text>
<line x1="232.5" y1="308.0" x2="235.5" y2="308.0" stroke="#111" stroke-width="1.00" />
<text x="228.5" y="310.9" font-size="8.20" text-anchor="end" font-weight="normal" fill="#1a1a1a" stroke="#1a1a1a" stroke-width="0.18" >4</text>
<line x1="235.0" y1="401.0" x2="346.0" y2="401.0" stroke="#111" stroke-width="1.30" />
<line x1="270.5" y1="401.0" x2="270.5" y2="403.5" stroke="#111" stroke-width="1.00" />
<line x1="323.0" y1="401.0" x2="323.0" y2="403.5" stroke="#111" stroke-width="1.00" />
<line x1="260.0" y1="364.4" x2="287.0" y2="364.4" stroke="#1a1a1a" stroke-width="1.40" />
<circle cx="256.3" cy="363.5" r="3.4" fill="#847abf"/>
<circle cx="265.5" cy="364.0" r="3.4" fill="#847abf"/>
<circle cx="274.8" cy="362.0" r="3.4" fill="#847abf"/>
<circle cx="284.0" cy="365.8" r="3.4" fill="#847abf"/>
<circle cx="256.3" cy="370.4" r="3.4" fill="#847abf"/>
<circle cx="274.8" cy="370.0" r="3.4" fill="#847abf"/>
<circle cx="270.5" cy="332.6" r="3.4" fill="#847abf"/>
<circle cx="309.2" cy="381.3" r="3.25" fill="none" stroke="#847abf" stroke-width="1.0"/>
<circle cx="323.0" cy="380.4" r="3.25" fill="none" stroke="#847abf" stroke-width="1.0"/>
<circle cx="337.0" cy="378.0" r="3.25" fill="none" stroke="#847abf" stroke-width="1.0"/>
<circle cx="337.0" cy="386.0" r="3.25" fill="none" stroke="#847abf" stroke-width="1.0"/>
<circle cx="323.0" cy="391.0" r="3.25" fill="none" stroke="#847abf" stroke-width="1.0"/>
<circle cx="323.0" cy="398.0" r="3.25" fill="none" stroke="#847abf" stroke-width="1.0"/>
<line x1="300.0" y1="383.5" x2="342.0" y2="383.5" stroke="#1a1a1a" stroke-width="1.40" />
<line x1="269.3" y1="323.5" x2="327.7" y2="323.5" stroke="#111" stroke-width="1.00" />
<circle cx="296.90" cy="319.30" r="1.05" fill="#111"/>
<circle cx="300.40" cy="319.30" r="1.05" fill="#111"/>
<text x="270.5" y="414.0" font-size="8.50" text-anchor="middle" font-weight="normal" fill="#1a1a1a" stroke="#1a1a1a" stroke-width="0.18" textLength="27.2" lengthAdjust="spacingAndGlyphs">Isotype</text>
<text x="323.0" y="414.0" font-size="8.50" text-anchor="middle" font-weight="normal" fill="#1a1a1a" stroke="#1a1a1a" stroke-width="0.18" textLength="36.4" lengthAdjust="spacingAndGlyphs">Anti-IFNg</text>
<text transform="translate(219.1,352.8) rotate(-90)" x="0" y="0" font-size="8.80" text-anchor="middle" fill="#1a1a1a" stroke="#1a1a1a" stroke-width="0.18" textLength="71.4" lengthAdjust="spacingAndGlyphs">Spleen (% of weight)</text>
<line x1="396.9" y1="305.0" x2="396.9" y2="401.5" stroke="#111" stroke-width="1.10" />
<line x1="393.9" y1="401.0" x2="396.9" y2="401.0" stroke="#111" stroke-width="1.00" />
<text x="389.9" y="403.9" font-size="8.20" text-anchor="end" font-weight="normal" fill="#1a1a1a" stroke="#1a1a1a" stroke-width="0.18" >0</text>
<line x1="393.9" y1="369.7" x2="396.9" y2="369.7" stroke="#111" stroke-width="1.00" />
<text x="389.9" y="372.6" font-size="8.20" text-anchor="end" font-weight="normal" fill="#1a1a1a" stroke="#1a1a1a" stroke-width="0.18" >5</text>
<line x1="393.9" y1="338.4" x2="396.9" y2="338.4" stroke="#111" stroke-width="1.00" />
<text x="389.9" y="341.3" font-size="8.20" text-anchor="end" font-weight="normal" fill="#1a1a1a" stroke="#1a1a1a" stroke-width="0.18" >10</text>
<line x1="393.9" y1="307.1" x2="396.9" y2="307.1" stroke="#111" stroke-width="1.00" />
<text x="389.9" y="310.0" font-size="8.20" text-anchor="end" font-weight="normal" fill="#1a1a1a" stroke="#1a1a1a" stroke-width="0.18" >15</text>
<line x1="396.4" y1="401.0" x2="512.3" y2="401.0" stroke="#111" stroke-width="1.30" />
<line x1="430.2" y1="401.0" x2="430.2" y2="403.5" stroke="#111" stroke-width="1.00" />
<line x1="479.4" y1="401.0" x2="479.4" y2="403.5" stroke="#111" stroke-width="1.00" />
<line x1="418.5" y1="364.4" x2="443.0" y2="364.4" stroke="#1a1a1a" stroke-width="1.40" />
<circle cx="416.3" cy="357.6" r="3.4" fill="#847abf"/>
<circle cx="430.2" cy="357.6" r="3.4" fill="#847abf"/>
<circle cx="443.0" cy="358.2" r="3.4" fill="#847abf"/>
<circle cx="416.3" cy="364.4" r="3.4" fill="#847abf"/>
<circle cx="430.2" cy="366.0" r="3.4" fill="#847abf"/>
<circle cx="443.0" cy="365.0" r="3.4" fill="#847abf"/>
<circle cx="430.2" cy="377.3" r="3.4" fill="#847abf"/>
<circle cx="479.4" cy="325.9" r="3.25" fill="none" stroke="#847abf" stroke-width="1.0"/>
<circle cx="466.2" cy="337.9" r="3.25" fill="none" stroke="#847abf" stroke-width="1.0"/>
<circle cx="479.4" cy="335.8" r="3.25" fill="none" stroke="#847abf" stroke-width="1.0"/>
<circle cx="493.0" cy="337.9" r="3.25" fill="none" stroke="#847abf" stroke-width="1.0"/>
<circle cx="472.6" cy="356.7" r="3.25" fill="none" stroke="#847abf" stroke-width="1.0"/>
<circle cx="486.2" cy="354.8" r="3.25" fill="none" stroke="#847abf" stroke-width="1.0"/>
<line x1="463.0" y1="337.9" x2="495.4" y2="337.9" stroke="#1a1a1a" stroke-width="1.40" />
<line x1="424.6" y1="313.6" x2="482.5" y2="313.6" stroke="#111" stroke-width="1.00" />
<circle cx="451.80" cy="309.80" r="1.05" fill="#111"/>
<circle cx="455.30" cy="309.80" r="1.05" fill="#111"/>
<text x="430.2" y="414.0" font-size="8.50" text-anchor="middle" font-weight="normal" fill="#1a1a1a" stroke="#1a1a1a" stroke-width="0.18" textLength="27.2" lengthAdjust="spacingAndGlyphs">Isotype</text>
<text x="479.4" y="414.0" font-size="8.50" text-anchor="middle" font-weight="normal" fill="#1a1a1a" stroke="#1a1a1a" stroke-width="0.18" textLength="36.4" lengthAdjust="spacingAndGlyphs">Anti-IFNg</text>
<text transform="translate(375.2,352.2) rotate(-90)" x="0" y="0" font-size="8.80" text-anchor="middle" fill="#1a1a1a" stroke="#1a1a1a" stroke-width="0.18" textLength="31.8" lengthAdjust="spacingAndGlyphs">Hb (g/dL)</text>
<line x1="49.1" y1="433.7" x2="49.1" y2="530.0" stroke="#111" stroke-width="1.10" />
<line x1="46.1" y1="529.4" x2="49.1" y2="529.4" stroke="#111" stroke-width="1.00" />
<text x="42.1" y="532.3" font-size="8.20" text-anchor="end" font-weight="normal" fill="#1a1a1a" stroke="#1a1a1a" stroke-width="0.18" >0</text>
<line x1="46.1" y1="506.0" x2="49.1" y2="506.0" stroke="#111" stroke-width="1.00" />
<text x="42.1" y="508.9" font-size="8.20" text-anchor="end" font-weight="normal" fill="#1a1a1a" stroke="#1a1a1a" stroke-width="0.18" >100</text>
<line x1="46.1" y1="482.7" x2="49.1" y2="482.7" stroke="#111" stroke-width="1.00" />
<text x="42.1" y="485.6" font-size="8.20" text-anchor="end" font-weight="normal" fill="#1a1a1a" stroke="#1a1a1a" stroke-width="0.18" >200</text>
<line x1="46.1" y1="459.3" x2="49.1" y2="459.3" stroke="#111" stroke-width="1.00" />
<text x="42.1" y="462.2" font-size="8.20" text-anchor="end" font-weight="normal" fill="#1a1a1a" stroke="#1a1a1a" stroke-width="0.18" >300</text>
<line x1="46.1" y1="436.0" x2="49.1" y2="436.0" stroke="#111" stroke-width="1.00" />
<text x="42.1" y="438.9" font-size="8.20" text-anchor="end" font-weight="normal" fill="#1a1a1a" stroke="#1a1a1a" stroke-width="0.18" >400</text>
<line x1="48.6" y1="529.4" x2="165.4" y2="529.4" stroke="#111" stroke-width="1.30" />
<line x1="82.6" y1="529.4" x2="82.6" y2="532.0" stroke="#111" stroke-width="1.00" />
<line x1="132.7" y1="529.4" x2="132.7" y2="532.0" stroke="#111" stroke-width="1.00" />
<line x1="66.3" y1="497.2" x2="99.0" y2="497.2" stroke="#1a1a1a" stroke-width="1.40" />
<circle cx="69.3" cy="492.1" r="3.4" fill="#847abf"/>
<circle cx="82.6" cy="489.8" r="3.4" fill="#847abf"/>
<circle cx="95.7" cy="491.0" r="3.4" fill="#847abf"/>
<circle cx="82.6" cy="497.4" r="3.4" fill="#847abf"/>
<circle cx="82.6" cy="507.3" r="3.4" fill="#847abf"/>
<circle cx="76.0" cy="521.8" r="3.4" fill="#847abf"/>
<circle cx="89.3" cy="521.8" r="3.4" fill="#847abf"/>
<circle cx="132.7" cy="450.0" r="3.25" fill="none" stroke="#847abf" stroke-width="1.0"/>
<circle cx="132.7" cy="458.0" r="3.25" fill="none" stroke="#847abf" stroke-width="1.0"/>
<circle cx="132.7" cy="473.8" r="3.25" fill="none" stroke="#847abf" stroke-width="1.0"/>
<circle cx="132.7" cy="483.8" r="3.25" fill="none" stroke="#847abf" stroke-width="1.0"/>
<circle cx="139.2" cy="505.4" r="3.25" fill="none" stroke="#847abf" stroke-width="1.0"/>
<circle cx="125.8" cy="511.5" r="3.25" fill="none" stroke="#847abf" stroke-width="1.0"/>
<line x1="116.0" y1="478.8" x2="148.8" y2="478.8" stroke="#1a1a1a" stroke-width="1.40" />
<text x="82.6" y="542.4" font-size="8.50" text-anchor="middle" font-weight="normal" fill="#1a1a1a" stroke="#1a1a1a" stroke-width="0.18" textLength="27.2" lengthAdjust="spacingAndGlyphs">Isotype</text>
<text x="132.7" y="542.4" font-size="8.50" text-anchor="middle" font-weight="normal" fill="#1a1a1a" stroke="#1a1a1a" stroke-width="0.18" textLength="36.4" lengthAdjust="spacingAndGlyphs">Anti-IFNg</text>
<text transform="translate(23.9,481.2) rotate(-90)" x="0" y="0" font-size="8.80" text-anchor="middle" fill="#1a1a1a" stroke="#1a1a1a" stroke-width="0.18" textLength="51.5" lengthAdjust="spacingAndGlyphs">Platelets (K/uL)</text>
<line x1="235.2" y1="435.3" x2="235.2" y2="530.0" stroke="#111" stroke-width="1.10" />
<line x1="232.2" y1="529.6" x2="235.2" y2="529.6" stroke="#111" stroke-width="1.00" />
<text x="228.4" y="532.5" font-size="8.2" text-anchor="end" fill="#222">10<tspan font-size="5.4" dy="-3.4">1</tspan></text>
<line x1="232.2" y1="498.9" x2="235.2" y2="498.9" stroke="#111" stroke-width="1.00" />
<text x="228.4" y="501.8" font-size="8.2" text-anchor="end" fill="#222">10<tspan font-size="5.4" dy="-3.4">2</tspan></text>
<line x1="232.2" y1="468.3" x2="235.2" y2="468.3" stroke="#111" stroke-width="1.00" />
<text x="228.4" y="471.2" font-size="8.2" text-anchor="end" fill="#222">10<tspan font-size="5.4" dy="-3.4">3</tspan></text>
<line x1="232.2" y1="437.6" x2="235.2" y2="437.6" stroke="#111" stroke-width="1.00" />
<text x="228.4" y="440.5" font-size="8.2" text-anchor="end" fill="#222">10<tspan font-size="5.4" dy="-3.4">4</tspan></text>
<line x1="234.7" y1="529.4" x2="350.2" y2="529.4" stroke="#111" stroke-width="1.30" />
<line x1="257.5" y1="529.4" x2="257.5" y2="532.0" stroke="#111" stroke-width="1.00" />
<line x1="317.5" y1="529.4" x2="317.5" y2="532.0" stroke="#111" stroke-width="1.00" />
<line x1="258.2" y1="475.2" x2="273.0" y2="475.2" stroke="#1a1a1a" stroke-width="1.40" />
<circle cx="255.3" cy="475.1" r="3.4" fill="#847abf"/>
<circle cx="263.9" cy="471.7" r="3.4" fill="#847abf"/>
<circle cx="272.5" cy="467.4" r="3.4" fill="#847abf"/>
<circle cx="272.5" cy="476.0" r="3.4" fill="#847abf"/>
<circle cx="281.5" cy="473.6" r="3.4" fill="#847abf"/>
<circle cx="268.2" cy="486.0" r="3.4" fill="#847abf"/>
<circle cx="268.2" cy="509.2" r="3.4" fill="#847abf"/>
<circle cx="317.5" cy="471.3" r="3.25" fill="none" stroke="#847abf" stroke-width="1.0"/>
<line x1="301.2" y1="509.2" x2="333.9" y2="509.2" stroke="#1a1a1a" stroke-width="1.40" />
<circle cx="304.3" cy="509.2" r="3.1" fill="none" stroke="#847abf" stroke-width="0.9"/>
<circle cx="310.7" cy="509.2" r="3.1" fill="none" stroke="#847abf" stroke-width="0.9"/>
<circle cx="317.5" cy="509.2" r="3.1" fill="none" stroke="#847abf" stroke-width="0.9"/>
<circle cx="324.1" cy="509.2" r="3.1" fill="none" stroke="#847abf" stroke-width="0.9"/>
<circle cx="330.8" cy="509.2" r="3.1" fill="none" stroke="#847abf" stroke-width="0.9"/>
<text x="257.5" y="542.4" font-size="8.50" text-anchor="middle" font-weight="normal" fill="#1a1a1a" stroke="#1a1a1a" stroke-width="0.18" textLength="27.2" lengthAdjust="spacingAndGlyphs">Isotype</text>
<text x="317.5" y="542.4" font-size="8.50" text-anchor="middle" font-weight="normal" fill="#1a1a1a" stroke="#1a1a1a" stroke-width="0.18" textLength="36.4" lengthAdjust="spacingAndGlyphs">Anti-IFNg</text>
<text transform="translate(211.5,482.0) rotate(-90)" x="0" y="0" font-size="8.80" text-anchor="middle" fill="#1a1a1a" stroke="#1a1a1a" stroke-width="0.18" textLength="50.7" lengthAdjust="spacingAndGlyphs">CXCL9 (pg/mL)</text>
</svg>
</body></html>
